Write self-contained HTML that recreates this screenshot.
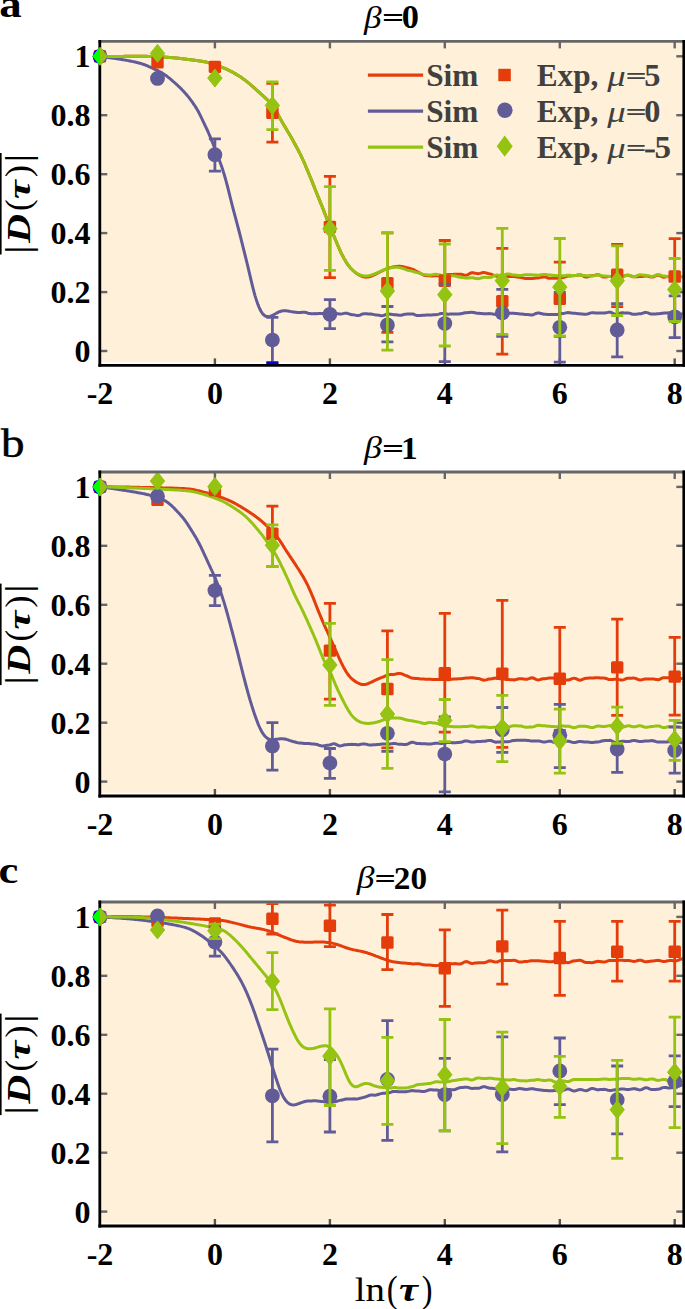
<!DOCTYPE html>
<html><head><meta charset="utf-8"><style>
html,body{margin:0;padding:0;background:#fff;}
svg{display:block;}
text{font-family:"Liberation Serif",serif;}
.tk{font-size:32px;font-weight:bold;fill:#000;}
.tt{font-size:32px;font-weight:bold;fill:#000;}
.it{font-style:italic;font-weight:normal;}
.bi{font-style:italic;font-weight:bold;}
.r{font-weight:normal;}
.yl{font-size:32px;fill:#000;}
.xl{font-size:33px;fill:#000;}
.pl{font-size:40px;font-weight:bold;fill:#000;}
.lg{font-size:31px;font-weight:bold;fill:#404040;}
</style></head><body>
<svg width="685" height="1309" viewBox="0 0 685 1309">
<rect width="685" height="1309" fill="#fff"/>
<rect x="101" y="42.6" width="581.5" height="319.6" fill="#FEF0D9"/>
<clipPath id="cp0"><rect x="101" y="42.6" width="581.5" height="321.4"/></clipPath>
<line x1="214.9" y1="41.4" x2="214.9" y2="48.4" stroke="#666666" stroke-width="2.4"/>
<line x1="214.9" y1="365.4" x2="214.9" y2="358.4" stroke="#555" stroke-width="2.4"/>
<line x1="329.9" y1="41.4" x2="329.9" y2="48.4" stroke="#666666" stroke-width="2.4"/>
<line x1="329.9" y1="365.4" x2="329.9" y2="358.4" stroke="#555" stroke-width="2.4"/>
<line x1="444.8" y1="41.4" x2="444.8" y2="48.4" stroke="#666666" stroke-width="2.4"/>
<line x1="444.8" y1="365.4" x2="444.8" y2="358.4" stroke="#555" stroke-width="2.4"/>
<line x1="559.8" y1="41.4" x2="559.8" y2="48.4" stroke="#666666" stroke-width="2.4"/>
<line x1="559.8" y1="365.4" x2="559.8" y2="358.4" stroke="#555" stroke-width="2.4"/>
<line x1="674.7" y1="41.4" x2="674.7" y2="48.4" stroke="#666666" stroke-width="2.4"/>
<line x1="674.7" y1="365.4" x2="674.7" y2="358.4" stroke="#555" stroke-width="2.4"/>
<line x1="99.8" y1="351.0" x2="107.3" y2="351.0" stroke="#666666" stroke-width="2.4"/>
<line x1="683.8" y1="351.0" x2="676.3" y2="351.0" stroke="#666666" stroke-width="2.4"/>
<line x1="99.8" y1="292.1" x2="107.3" y2="292.1" stroke="#666666" stroke-width="2.4"/>
<line x1="683.8" y1="292.1" x2="676.3" y2="292.1" stroke="#666666" stroke-width="2.4"/>
<line x1="99.8" y1="233.1" x2="107.3" y2="233.1" stroke="#666666" stroke-width="2.4"/>
<line x1="683.8" y1="233.1" x2="676.3" y2="233.1" stroke="#666666" stroke-width="2.4"/>
<line x1="99.8" y1="174.2" x2="107.3" y2="174.2" stroke="#666666" stroke-width="2.4"/>
<line x1="683.8" y1="174.2" x2="676.3" y2="174.2" stroke="#666666" stroke-width="2.4"/>
<line x1="99.8" y1="115.2" x2="107.3" y2="115.2" stroke="#666666" stroke-width="2.4"/>
<line x1="683.8" y1="115.2" x2="676.3" y2="115.2" stroke="#666666" stroke-width="2.4"/>
<line x1="99.8" y1="56.3" x2="107.3" y2="56.3" stroke="#666666" stroke-width="2.4"/>
<line x1="683.8" y1="56.3" x2="676.3" y2="56.3" stroke="#666666" stroke-width="2.4"/>
<g clip-path="url(#cp0)">
<path d="M100.0,56.6 L101.0,56.6 L102.0,56.6 L103.0,56.6 L104.0,56.6 L105.0,56.6 L106.0,56.6 L107.0,56.5 L108.0,56.5 L109.0,56.5 L110.0,56.5 L111.0,56.5 L112.0,56.5 L113.0,56.5 L114.0,56.5 L115.0,56.4 L116.0,56.4 L117.0,56.4 L118.0,56.4 L119.0,56.4 L120.0,56.4 L121.0,56.4 L122.0,56.4 L123.0,56.4 L124.0,56.3 L125.0,56.3 L126.0,56.3 L127.0,56.3 L128.0,56.3 L129.0,56.3 L130.0,56.3 L131.0,56.3 L132.0,56.3 L133.0,56.3 L134.0,56.3 L135.0,56.3 L136.0,56.3 L137.0,56.3 L138.0,56.3 L139.0,56.3 L140.0,56.3 L141.0,56.3 L142.0,56.3 L143.0,56.3 L144.0,56.3 L145.0,56.3 L146.0,56.3 L147.0,56.3 L148.0,56.4 L149.0,56.4 L150.0,56.4 L151.0,56.4 L152.0,56.4 L153.0,56.5 L154.0,56.5 L155.0,56.5 L156.0,56.6 L157.0,56.6 L158.0,56.7 L159.0,56.7 L160.0,56.8 L161.0,56.8 L162.0,56.9 L163.0,56.9 L164.0,57.0 L165.0,57.1 L166.0,57.2 L167.0,57.2 L168.0,57.3 L169.0,57.4 L170.0,57.5 L171.0,57.6 L172.0,57.7 L173.0,57.7 L174.0,57.8 L175.0,57.9 L176.0,58.0 L177.0,58.1 L178.0,58.2 L179.0,58.3 L180.0,58.5 L181.0,58.6 L182.0,58.7 L183.0,58.8 L184.0,58.9 L185.0,59.0 L186.0,59.2 L187.0,59.3 L188.0,59.4 L189.0,59.5 L190.0,59.7 L191.0,59.8 L192.0,59.9 L193.0,60.0 L194.0,60.2 L195.0,60.3 L196.0,60.5 L197.0,60.6 L198.0,60.7 L199.0,60.9 L200.0,61.0 L201.0,61.2 L202.0,61.3 L203.0,61.5 L204.0,61.7 L205.0,61.8 L206.0,62.0 L207.0,62.3 L208.0,62.5 L209.0,62.8 L210.0,63.1 L211.0,63.4 L212.0,63.7 L213.0,64.1 L214.0,64.4 L215.0,64.7 L216.0,65.1 L217.0,65.4 L218.0,65.8 L219.0,66.1 L220.0,66.5 L221.0,66.9 L222.0,67.3 L223.0,67.7 L224.0,68.1 L225.0,68.5 L226.0,68.9 L227.0,69.4 L228.0,69.9 L229.0,70.4 L230.0,70.9 L231.0,71.4 L232.0,71.9 L233.0,72.4 L234.0,73.0 L235.0,73.6 L236.0,74.1 L237.0,74.7 L238.0,75.4 L239.0,76.0 L240.0,76.6 L241.0,77.3 L242.0,78.0 L243.0,78.7 L244.0,79.4 L245.0,80.2 L246.0,80.9 L247.0,81.7 L248.0,82.5 L249.0,83.4 L250.0,84.2 L251.0,85.1 L252.0,85.9 L253.0,86.8 L254.0,87.7 L255.0,88.6 L256.0,89.5 L257.0,90.4 L258.0,91.3 L259.0,92.2 L260.0,93.1 L261.0,94.0 L262.0,94.9 L263.0,95.8 L264.0,96.7 L265.0,97.7 L266.0,98.6 L267.0,99.5 L268.0,100.5 L269.0,101.5 L270.0,102.5 L271.0,103.6 L272.0,104.8 L273.0,106.1 L274.0,107.6 L275.0,109.3 L276.0,111.0 L277.0,112.8 L278.0,114.6 L279.0,116.4 L280.0,118.2 L281.0,120.0 L282.0,121.8 L283.0,123.5 L284.0,125.2 L285.0,126.8 L286.0,128.5 L287.0,130.2 L288.0,131.9 L289.0,133.6 L290.0,135.3 L291.0,137.0 L292.0,138.8 L293.0,140.6 L294.0,142.4 L295.0,144.2 L296.0,146.1 L297.0,147.9 L298.0,149.8 L299.0,151.7 L300.0,153.7 L301.0,155.7 L302.0,157.8 L303.0,160.0 L304.0,162.2 L305.0,164.5 L306.0,166.9 L307.0,169.3 L308.0,171.7 L309.0,174.1 L310.0,176.5 L311.0,178.9 L312.0,181.4 L313.0,183.9 L314.0,186.4 L315.0,189.0 L316.0,191.5 L317.0,194.0 L318.0,196.4 L319.0,198.9 L320.0,201.4 L321.0,203.8 L322.0,206.3 L323.0,208.8 L324.0,211.4 L325.0,214.0 L326.0,216.5 L327.0,219.1 L328.0,221.6 L329.0,224.1 L330.0,226.5 L331.0,228.9 L332.0,231.3 L333.0,233.7 L334.0,236.2 L335.0,238.6 L336.0,241.0 L337.0,243.5 L338.0,245.9 L339.0,248.2 L340.0,250.4 L341.0,252.6 L342.0,254.6 L343.0,256.5 L344.0,258.4 L345.0,260.1 L346.0,261.8 L347.0,263.3 L348.0,264.8 L349.0,266.1 L350.0,267.4 L351.0,268.5 L352.0,269.5 L353.0,270.5 L354.0,271.4 L355.0,272.2 L356.0,273.0 L357.0,273.7 L358.0,274.3 L359.0,274.9 L360.0,275.4 L361.0,275.9 L362.0,276.3 L363.0,276.7 L364.0,276.9 L365.0,277.1 L366.0,277.2 L367.0,277.1 L368.0,277.0 L369.0,276.8 L370.0,276.5 L371.0,276.2 L372.0,275.8 L373.0,275.4 L374.0,274.9 L375.0,274.4 L376.0,274.0 L377.0,273.5 L378.0,273.0 L379.0,272.5 L380.0,272.0 L381.0,271.5 L382.0,270.9 L383.0,270.5 L384.0,270.0 L385.0,269.5 L386.0,269.1 L387.0,268.7 L388.0,268.4 L389.0,268.0 L390.0,267.7 L391.0,267.5 L392.0,267.2 L393.0,267.0 L394.0,266.8 L395.0,266.6 L396.0,266.5 L397.0,266.4 L398.0,266.3 L399.0,266.3 L400.0,266.3 L401.0,266.4 L402.0,266.5 L403.0,266.7 L404.0,266.9 L405.0,267.1 L406.0,267.4 L407.0,267.6 L408.0,267.9 L409.0,268.2 L410.0,268.5 L411.0,268.8 L412.0,269.1 L413.0,269.4 L414.0,269.9 L415.0,270.5 L416.0,271.1 L417.0,271.6 L418.0,272.1 L419.0,272.6 L420.0,273.1 L421.0,273.6 L422.0,274.2 L423.0,274.7 L424.0,275.2 L425.0,275.5 L426.0,275.6 L427.0,275.7 L428.0,275.7 L429.0,275.7 L430.0,275.8 L431.0,276.0 L432.0,276.0 L433.0,275.9 L434.0,275.8 L435.0,275.7 L436.0,275.6 L437.0,275.7 L438.0,275.8 L439.0,275.9 L440.0,276.0 L441.0,276.1 L442.0,276.1 L443.0,275.9 L444.0,275.6 L445.0,275.3 L446.0,275.0 L447.0,274.7 L448.0,274.6 L449.0,274.5 L450.0,274.5 L451.0,274.4 L452.0,274.4 L453.0,274.4 L454.0,274.3 L455.0,274.3 L456.0,274.3 L457.0,274.3 L458.0,274.3 L459.0,274.2 L460.0,274.2 L461.0,274.2 L462.0,274.4 L463.0,274.7 L464.0,275.1 L465.0,275.3 L466.0,275.3 L467.0,275.1 L468.0,274.6 L469.0,274.0 L470.0,273.4 L471.0,273.0 L472.0,272.7 L473.0,272.8 L474.0,273.0 L475.0,273.2 L476.0,273.4 L477.0,273.6 L478.0,273.7 L479.0,273.6 L480.0,273.4 L481.0,273.1 L482.0,272.8 L483.0,272.6 L484.0,272.6 L485.0,272.7 L486.0,272.9 L487.0,273.2 L488.0,273.5 L489.0,273.7 L490.0,273.9 L491.0,274.1 L492.0,274.5 L493.0,275.0 L494.0,275.5 L495.0,275.9 L496.0,276.1 L497.0,276.2 L498.0,276.3 L499.0,276.3 L500.0,276.4 L501.0,276.4 L502.0,276.5 L503.0,276.6 L504.0,276.6 L505.0,276.5 L506.0,276.4 L507.0,276.3 L508.0,276.4 L509.0,276.5 L510.0,276.5 L511.0,276.5 L512.0,276.5 L513.0,276.5 L514.0,276.6 L515.0,276.7 L516.0,276.8 L517.0,277.0 L518.0,277.1 L519.0,277.2 L520.0,277.3 L521.0,277.4 L522.0,277.7 L523.0,277.9 L524.0,278.2 L525.0,278.4 L526.0,278.5 L527.0,278.5 L528.0,278.5 L529.0,278.5 L530.0,278.5 L531.0,278.4 L532.0,278.4 L533.0,278.4 L534.0,278.3 L535.0,278.2 L536.0,278.1 L537.0,277.9 L538.0,277.9 L539.0,277.8 L540.0,277.6 L541.0,277.4 L542.0,277.2 L543.0,277.0 L544.0,276.9 L545.0,277.0 L546.0,277.2 L547.0,277.6 L548.0,278.0 L549.0,278.3 L550.0,278.3 L551.0,278.2 L552.0,278.2 L553.0,278.3 L554.0,278.3 L555.0,278.3 L556.0,278.3 L557.0,278.2 L558.0,278.1 L559.0,277.9 L560.0,277.8 L561.0,277.7 L562.0,277.7 L563.0,277.5 L564.0,277.2 L565.0,276.9 L566.0,276.5 L567.0,276.2 L568.0,276.1 L569.0,276.1 L570.0,276.0 L571.0,275.9 L572.0,275.8 L573.0,275.7 L574.0,275.7 L575.0,275.6 L576.0,275.4 L577.0,275.2 L578.0,275.0 L579.0,274.9 L580.0,274.8 L581.0,275.0 L582.0,275.4 L583.0,276.0 L584.0,276.5 L585.0,276.9 L586.0,277.1 L587.0,277.0 L588.0,276.7 L589.0,276.4 L590.0,276.0 L591.0,275.8 L592.0,275.7 L593.0,275.6 L594.0,275.4 L595.0,275.2 L596.0,275.0 L597.0,274.8 L598.0,274.8 L599.0,274.9 L600.0,275.4 L601.0,275.9 L602.0,276.5 L603.0,277.0 L604.0,277.1 L605.0,277.1 L606.0,276.9 L607.0,276.8 L608.0,276.6 L609.0,276.4 L610.0,276.4 L611.0,276.4 L612.0,276.4 L613.0,276.5 L614.0,276.6 L615.0,276.6 L616.0,276.6 L617.0,276.6 L618.0,276.5 L619.0,276.4 L620.0,276.2 L621.0,276.1 L622.0,276.1 L623.0,276.0 L624.0,275.9 L625.0,275.7 L626.0,275.5 L627.0,275.3 L628.0,275.3 L629.0,275.4 L630.0,275.7 L631.0,276.0 L632.0,276.4 L633.0,276.7 L634.0,276.8 L635.0,276.8 L636.0,276.7 L637.0,276.7 L638.0,276.7 L639.0,276.6 L640.0,276.6 L641.0,276.6 L642.0,276.5 L643.0,276.3 L644.0,276.2 L645.0,276.1 L646.0,276.0 L647.0,276.1 L648.0,276.3 L649.0,276.6 L650.0,276.9 L651.0,277.1 L652.0,277.1 L653.0,277.0 L654.0,276.6 L655.0,276.2 L656.0,275.7 L657.0,275.3 L658.0,275.2 L659.0,275.3 L660.0,275.7 L661.0,276.2 L662.0,276.7 L663.0,277.0 L664.0,277.2 L665.0,277.1 L666.0,276.9 L667.0,276.7 L668.0,276.5 L669.0,276.3 L670.0,276.2 L671.0,276.1 L672.0,275.9 L673.0,275.6 L674.0,275.3 L675.0,275.1 L676.0,275.0 L677.0,275.1 L678.0,275.5 L679.0,275.9 L680.0,276.4 L681.0,276.7 L682.0,276.9 L683.0,276.9" fill="none" stroke="#E43C0A" stroke-width="3.0" stroke-linejoin="round" stroke-linecap="round"/>
<path d="M100.0,56.7 L101.0,56.8 L102.0,56.9 L103.0,57.0 L104.0,57.1 L105.0,57.2 L106.0,57.3 L107.0,57.4 L108.0,57.6 L109.0,57.7 L110.0,57.8 L111.0,57.9 L112.0,58.1 L113.0,58.2 L114.0,58.3 L115.0,58.5 L116.0,58.6 L117.0,58.8 L118.0,58.9 L119.0,59.1 L120.0,59.2 L121.0,59.4 L122.0,59.5 L123.0,59.7 L124.0,59.9 L125.0,60.1 L126.0,60.2 L127.0,60.4 L128.0,60.6 L129.0,60.8 L130.0,61.0 L131.0,61.2 L132.0,61.4 L133.0,61.6 L134.0,61.8 L135.0,62.0 L136.0,62.2 L137.0,62.5 L138.0,62.7 L139.0,63.0 L140.0,63.3 L141.0,63.5 L142.0,63.9 L143.0,64.2 L144.0,64.5 L145.0,64.9 L146.0,65.3 L147.0,65.7 L148.0,66.1 L149.0,66.6 L150.0,67.0 L151.0,67.5 L152.0,67.9 L153.0,68.4 L154.0,68.8 L155.0,69.3 L156.0,69.8 L157.0,70.2 L158.0,70.7 L159.0,71.3 L160.0,71.8 L161.0,72.3 L162.0,72.9 L163.0,73.6 L164.0,74.2 L165.0,74.9 L166.0,75.6 L167.0,76.3 L168.0,77.1 L169.0,77.9 L170.0,78.7 L171.0,79.5 L172.0,80.4 L173.0,81.3 L174.0,82.1 L175.0,83.0 L176.0,83.9 L177.0,84.8 L178.0,85.8 L179.0,86.7 L180.0,87.7 L181.0,88.6 L182.0,89.7 L183.0,90.7 L184.0,91.8 L185.0,92.9 L186.0,94.0 L187.0,95.2 L188.0,96.4 L189.0,97.7 L190.0,99.0 L191.0,100.4 L192.0,101.7 L193.0,103.1 L194.0,104.6 L195.0,106.0 L196.0,107.6 L197.0,109.2 L198.0,111.0 L199.0,112.8 L200.0,114.8 L201.0,116.8 L202.0,119.0 L203.0,121.1 L204.0,123.2 L205.0,125.3 L206.0,127.4 L207.0,129.5 L208.0,131.7 L209.0,134.0 L210.0,136.4 L211.0,138.8 L212.0,141.3 L213.0,143.8 L214.0,146.3 L215.0,148.8 L216.0,151.4 L217.0,153.9 L218.0,156.5 L219.0,159.2 L220.0,161.9 L221.0,164.7 L222.0,167.6 L223.0,170.7 L224.0,173.9 L225.0,177.2 L226.0,180.8 L227.0,184.5 L228.0,188.4 L229.0,192.4 L230.0,196.5 L231.0,200.5 L232.0,204.5 L233.0,208.4 L234.0,212.2 L235.0,215.9 L236.0,219.7 L237.0,223.4 L238.0,227.2 L239.0,231.0 L240.0,234.9 L241.0,238.8 L242.0,242.8 L243.0,246.8 L244.0,250.8 L245.0,254.8 L246.0,258.9 L247.0,263.0 L248.0,267.1 L249.0,271.4 L250.0,275.6 L251.0,279.9 L252.0,284.1 L253.0,288.1 L254.0,292.0 L255.0,295.6 L256.0,298.9 L257.0,301.9 L258.0,304.7 L259.0,307.1 L260.0,309.3 L261.0,311.2 L262.0,312.8 L263.0,314.1 L264.0,315.1 L265.0,315.8 L266.0,316.3 L267.0,316.6 L268.0,316.7 L269.0,316.6 L270.0,316.4 L271.0,316.0 L272.0,315.6 L273.0,315.1 L274.0,314.6 L275.0,314.0 L276.0,313.5 L277.0,312.9 L278.0,312.4 L279.0,311.9 L280.0,311.5 L281.0,311.2 L282.0,310.9 L283.0,310.8 L284.0,310.7 L285.0,310.7 L286.0,310.7 L287.0,310.9 L288.0,311.0 L289.0,311.2 L290.0,311.4 L291.0,311.6 L292.0,311.8 L293.0,312.0 L294.0,312.1 L295.0,312.2 L296.0,312.3 L297.0,312.4 L298.0,312.4 L299.0,312.5 L300.0,312.5 L301.0,312.4 L302.0,312.3 L303.0,312.2 L304.0,312.2 L305.0,312.3 L306.0,312.5 L307.0,312.8 L308.0,313.2 L309.0,313.5 L310.0,313.6 L311.0,313.7 L312.0,313.7 L313.0,313.7 L314.0,313.7 L315.0,313.6 L316.0,313.7 L317.0,313.7 L318.0,313.6 L319.0,313.5 L320.0,313.4 L321.0,313.4 L322.0,313.4 L323.0,313.4 L324.0,313.5 L325.0,313.6 L326.0,313.6 L327.0,313.7 L328.0,313.8 L329.0,313.7 L330.0,313.6 L331.0,313.4 L332.0,313.2 L333.0,313.0 L334.0,313.0 L335.0,313.1 L336.0,313.3 L337.0,313.6 L338.0,313.8 L339.0,314.0 L340.0,314.1 L341.0,314.1 L342.0,313.9 L343.0,313.6 L344.0,313.4 L345.0,313.2 L346.0,313.2 L347.0,313.3 L348.0,313.6 L349.0,313.9 L350.0,314.3 L351.0,314.5 L352.0,314.7 L353.0,314.7 L354.0,314.9 L355.0,315.1 L356.0,315.3 L357.0,315.4 L358.0,315.5 L359.0,315.4 L360.0,315.1 L361.0,314.6 L362.0,314.2 L363.0,313.9 L364.0,313.7 L365.0,313.8 L366.0,313.8 L367.0,313.8 L368.0,313.9 L369.0,313.9 L370.0,314.0 L371.0,314.0 L372.0,314.2 L373.0,314.4 L374.0,314.6 L375.0,314.8 L376.0,314.9 L377.0,314.9 L378.0,315.1 L379.0,315.3 L380.0,315.5 L381.0,315.7 L382.0,315.8 L383.0,315.6 L384.0,315.3 L385.0,314.9 L386.0,314.5 L387.0,314.1 L388.0,314.0 L389.0,314.1 L390.0,314.2 L391.0,314.3 L392.0,314.5 L393.0,314.6 L394.0,314.7 L395.0,314.7 L396.0,314.8 L397.0,315.0 L398.0,315.1 L399.0,315.2 L400.0,315.3 L401.0,315.2 L402.0,315.0 L403.0,314.7 L404.0,314.4 L405.0,314.2 L406.0,314.2 L407.0,314.1 L408.0,314.1 L409.0,314.0 L410.0,314.0 L411.0,313.9 L412.0,313.9 L413.0,314.0 L414.0,314.4 L415.0,314.8 L416.0,315.2 L417.0,315.5 L418.0,315.6 L419.0,315.6 L420.0,315.5 L421.0,315.4 L422.0,315.3 L423.0,315.2 L424.0,315.2 L425.0,315.2 L426.0,315.1 L427.0,315.1 L428.0,315.0 L429.0,315.0 L430.0,314.9 L431.0,314.9 L432.0,314.9 L433.0,314.8 L434.0,314.8 L435.0,314.7 L436.0,314.7 L437.0,314.6 L438.0,314.4 L439.0,314.1 L440.0,313.8 L441.0,313.5 L442.0,313.4 L443.0,313.4 L444.0,313.6 L445.0,313.8 L446.0,314.0 L447.0,314.1 L448.0,314.2 L449.0,314.2 L450.0,314.1 L451.0,314.1 L452.0,314.1 L453.0,314.0 L454.0,314.0 L455.0,314.0 L456.0,313.9 L457.0,313.9 L458.0,313.9 L459.0,313.9 L460.0,313.8 L461.0,313.7 L462.0,313.5 L463.0,313.3 L464.0,313.0 L465.0,312.8 L466.0,312.7 L467.0,312.7 L468.0,312.6 L469.0,312.5 L470.0,312.4 L471.0,312.3 L472.0,312.3 L473.0,312.4 L474.0,312.5 L475.0,312.8 L476.0,313.1 L477.0,313.3 L478.0,313.3 L479.0,313.3 L480.0,313.4 L481.0,313.5 L482.0,313.6 L483.0,313.7 L484.0,313.7 L485.0,313.7 L486.0,313.7 L487.0,313.7 L488.0,313.7 L489.0,313.6 L490.0,313.7 L491.0,313.7 L492.0,313.9 L493.0,314.0 L494.0,314.2 L495.0,314.4 L496.0,314.4 L497.0,314.3 L498.0,314.1 L499.0,313.8 L500.0,313.4 L501.0,313.2 L502.0,313.1 L503.0,313.1 L504.0,313.2 L505.0,313.2 L506.0,313.2 L507.0,313.3 L508.0,313.3 L509.0,313.3 L510.0,313.3 L511.0,313.3 L512.0,313.3 L513.0,313.3 L514.0,313.3 L515.0,313.4 L516.0,313.5 L517.0,313.6 L518.0,313.7 L519.0,313.8 L520.0,313.9 L521.0,313.9 L522.0,314.0 L523.0,314.2 L524.0,314.3 L525.0,314.4 L526.0,314.4 L527.0,314.5 L528.0,314.6 L529.0,314.7 L530.0,314.8 L531.0,314.9 L532.0,314.9 L533.0,314.8 L534.0,314.4 L535.0,313.9 L536.0,313.5 L537.0,313.1 L538.0,312.9 L539.0,313.0 L540.0,313.3 L541.0,313.5 L542.0,313.8 L543.0,314.1 L544.0,314.2 L545.0,314.2 L546.0,314.3 L547.0,314.4 L548.0,314.5 L549.0,314.6 L550.0,314.6 L551.0,314.6 L552.0,314.6 L553.0,314.6 L554.0,314.5 L555.0,314.5 L556.0,314.5 L557.0,314.4 L558.0,314.3 L559.0,314.1 L560.0,313.9 L561.0,313.7 L562.0,313.6 L563.0,313.5 L564.0,313.4 L565.0,313.1 L566.0,312.9 L567.0,312.7 L568.0,312.6 L569.0,312.7 L570.0,312.8 L571.0,312.9 L572.0,313.1 L573.0,313.2 L574.0,313.2 L575.0,313.2 L576.0,313.4 L577.0,313.5 L578.0,313.7 L579.0,313.8 L580.0,313.8 L581.0,313.9 L582.0,313.9 L583.0,314.1 L584.0,314.2 L585.0,314.2 L586.0,314.3 L587.0,314.1 L588.0,313.9 L589.0,313.5 L590.0,313.1 L591.0,312.9 L592.0,312.7 L593.0,312.8 L594.0,312.8 L595.0,312.9 L596.0,312.9 L597.0,313.0 L598.0,313.0 L599.0,313.0 L600.0,313.0 L601.0,313.0 L602.0,313.0 L603.0,313.0 L604.0,313.0 L605.0,313.0 L606.0,312.8 L607.0,312.6 L608.0,312.4 L609.0,312.2 L610.0,312.2 L611.0,312.3 L612.0,312.8 L613.0,313.3 L614.0,313.9 L615.0,314.3 L616.0,314.5 L617.0,314.4 L618.0,314.1 L619.0,313.7 L620.0,313.3 L621.0,313.0 L622.0,312.8 L623.0,312.8 L624.0,312.9 L625.0,312.9 L626.0,313.0 L627.0,313.0 L628.0,313.0 L629.0,313.1 L630.0,313.4 L631.0,313.7 L632.0,314.0 L633.0,314.2 L634.0,314.3 L635.0,314.3 L636.0,314.2 L637.0,314.1 L638.0,313.9 L639.0,313.8 L640.0,313.8 L641.0,313.7 L642.0,313.4 L643.0,313.1 L644.0,312.8 L645.0,312.5 L646.0,312.4 L647.0,312.6 L648.0,312.9 L649.0,313.3 L650.0,313.7 L651.0,314.0 L652.0,314.1 L653.0,314.1 L654.0,314.1 L655.0,314.0 L656.0,313.9 L657.0,313.8 L658.0,313.8 L659.0,313.8 L660.0,313.6 L661.0,313.5 L662.0,313.3 L663.0,313.2 L664.0,313.1 L665.0,313.1 L666.0,313.1 L667.0,313.0 L668.0,312.9 L669.0,312.8 L670.0,312.8 L671.0,312.9 L672.0,313.1 L673.0,313.4 L674.0,313.6 L675.0,313.8 L676.0,313.9 L677.0,313.9 L678.0,313.9 L679.0,314.0 L680.0,314.0 L681.0,314.1 L682.0,314.1 L683.0,314.0" fill="none" stroke="#615B98" stroke-width="3.0" stroke-linejoin="round" stroke-linecap="round"/>
<path d="M100.0,56.6 L101.0,56.6 L102.0,56.6 L103.0,56.6 L104.0,56.6 L105.0,56.6 L106.0,56.6 L107.0,56.5 L108.0,56.5 L109.0,56.5 L110.0,56.5 L111.0,56.5 L112.0,56.5 L113.0,56.5 L114.0,56.5 L115.0,56.4 L116.0,56.4 L117.0,56.4 L118.0,56.4 L119.0,56.4 L120.0,56.4 L121.0,56.4 L122.0,56.4 L123.0,56.4 L124.0,56.3 L125.0,56.3 L126.0,56.3 L127.0,56.3 L128.0,56.3 L129.0,56.3 L130.0,56.3 L131.0,56.3 L132.0,56.3 L133.0,56.3 L134.0,56.3 L135.0,56.3 L136.0,56.3 L137.0,56.3 L138.0,56.3 L139.0,56.3 L140.0,56.3 L141.0,56.3 L142.0,56.3 L143.0,56.3 L144.0,56.3 L145.0,56.3 L146.0,56.3 L147.0,56.3 L148.0,56.4 L149.0,56.4 L150.0,56.4 L151.0,56.4 L152.0,56.4 L153.0,56.5 L154.0,56.5 L155.0,56.5 L156.0,56.6 L157.0,56.6 L158.0,56.7 L159.0,56.7 L160.0,56.8 L161.0,56.8 L162.0,56.9 L163.0,56.9 L164.0,57.0 L165.0,57.1 L166.0,57.2 L167.0,57.2 L168.0,57.3 L169.0,57.4 L170.0,57.5 L171.0,57.6 L172.0,57.7 L173.0,57.7 L174.0,57.8 L175.0,57.9 L176.0,58.0 L177.0,58.1 L178.0,58.2 L179.0,58.3 L180.0,58.5 L181.0,58.6 L182.0,58.7 L183.0,58.8 L184.0,58.9 L185.0,59.0 L186.0,59.2 L187.0,59.3 L188.0,59.4 L189.0,59.5 L190.0,59.7 L191.0,59.8 L192.0,59.9 L193.0,60.0 L194.0,60.2 L195.0,60.3 L196.0,60.5 L197.0,60.6 L198.0,60.7 L199.0,60.9 L200.0,61.0 L201.0,61.2 L202.0,61.3 L203.0,61.5 L204.0,61.7 L205.0,61.8 L206.0,62.0 L207.0,62.3 L208.0,62.5 L209.0,62.8 L210.0,63.1 L211.0,63.4 L212.0,63.7 L213.0,64.1 L214.0,64.4 L215.0,64.7 L216.0,65.1 L217.0,65.4 L218.0,65.8 L219.0,66.1 L220.0,66.5 L221.0,66.9 L222.0,67.3 L223.0,67.7 L224.0,68.1 L225.0,68.5 L226.0,68.9 L227.0,69.4 L228.0,69.9 L229.0,70.4 L230.0,70.9 L231.0,71.4 L232.0,71.9 L233.0,72.4 L234.0,73.0 L235.0,73.6 L236.0,74.1 L237.0,74.7 L238.0,75.4 L239.0,76.0 L240.0,76.6 L241.0,77.3 L242.0,78.0 L243.0,78.7 L244.0,79.4 L245.0,80.2 L246.0,80.9 L247.0,81.7 L248.0,82.5 L249.0,83.4 L250.0,84.2 L251.0,85.1 L252.0,85.9 L253.0,86.8 L254.0,87.7 L255.0,88.6 L256.0,89.5 L257.0,90.4 L258.0,91.3 L259.0,92.2 L260.0,93.1 L261.0,94.0 L262.0,94.9 L263.0,95.8 L264.0,96.7 L265.0,97.7 L266.0,98.6 L267.0,99.5 L268.0,100.5 L269.0,101.5 L270.0,102.5 L271.0,103.6 L272.0,104.8 L273.0,106.1 L274.0,107.6 L275.0,109.3 L276.0,111.0 L277.0,112.8 L278.0,114.6 L279.0,116.4 L280.0,118.2 L281.0,120.0 L282.0,121.8 L283.0,123.5 L284.0,125.2 L285.0,126.8 L286.0,128.5 L287.0,130.2 L288.0,131.9 L289.0,133.6 L290.0,135.3 L291.0,137.0 L292.0,138.8 L293.0,140.6 L294.0,142.4 L295.0,144.2 L296.0,146.1 L297.0,147.9 L298.0,149.8 L299.0,151.7 L300.0,153.7 L301.0,155.7 L302.0,157.8 L303.0,160.0 L304.0,162.2 L305.0,164.5 L306.0,166.9 L307.0,169.3 L308.0,171.7 L309.0,174.1 L310.0,176.5 L311.0,178.9 L312.0,181.4 L313.0,183.9 L314.0,186.4 L315.0,189.0 L316.0,191.5 L317.0,194.0 L318.0,196.4 L319.0,198.9 L320.0,201.4 L321.0,203.8 L322.0,206.3 L323.0,208.8 L324.0,211.4 L325.0,214.0 L326.0,216.5 L327.0,219.1 L328.0,221.6 L329.0,224.1 L330.0,226.5 L331.0,228.9 L332.0,231.3 L333.0,233.7 L334.0,236.2 L335.0,238.6 L336.0,241.0 L337.0,243.5 L338.0,245.9 L339.0,248.2 L340.0,250.4 L341.0,252.6 L342.0,254.6 L343.0,256.5 L344.0,258.4 L345.0,260.1 L346.0,261.8 L347.0,263.3 L348.0,264.8 L349.0,266.1 L350.0,267.4 L351.0,268.5 L352.0,269.6 L353.0,270.5 L354.0,271.4 L355.0,272.2 L356.0,273.0 L357.0,273.6 L358.0,274.1 L359.0,274.6 L360.0,275.0 L361.0,275.3 L362.0,275.6 L363.0,275.7 L364.0,275.9 L365.0,275.9 L366.0,275.9 L367.0,275.9 L368.0,275.8 L369.0,275.6 L370.0,275.4 L371.0,275.1 L372.0,274.8 L373.0,274.4 L374.0,274.1 L375.0,273.7 L376.0,273.3 L377.0,272.9 L378.0,272.4 L379.0,272.0 L380.0,271.6 L381.0,271.1 L382.0,270.6 L383.0,270.2 L384.0,269.8 L385.0,269.4 L386.0,269.0 L387.0,268.7 L388.0,268.4 L389.0,268.1 L390.0,267.9 L391.0,267.7 L392.0,267.6 L393.0,267.4 L394.0,267.3 L395.0,267.2 L396.0,267.2 L397.0,267.2 L398.0,267.3 L399.0,267.4 L400.0,267.6 L401.0,267.9 L402.0,268.2 L403.0,268.5 L404.0,268.8 L405.0,269.2 L406.0,269.7 L407.0,270.1 L408.0,270.4 L409.0,270.6 L410.0,270.7 L411.0,270.9 L412.0,271.1 L413.0,271.4 L414.0,271.7 L415.0,272.0 L416.0,272.4 L417.0,272.6 L418.0,272.8 L419.0,273.0 L420.0,273.3 L421.0,273.7 L422.0,274.1 L423.0,274.4 L424.0,274.6 L425.0,274.7 L426.0,274.8 L427.0,274.8 L428.0,274.9 L429.0,274.9 L430.0,275.0 L431.0,274.9 L432.0,274.8 L433.0,274.6 L434.0,274.4 L435.0,274.3 L436.0,274.3 L437.0,274.4 L438.0,274.6 L439.0,274.8 L440.0,275.0 L441.0,275.2 L442.0,275.4 L443.0,275.5 L444.0,275.5 L445.0,275.6 L446.0,275.7 L447.0,275.8 L448.0,276.0 L449.0,276.0 L450.0,276.0 L451.0,275.9 L452.0,275.8 L453.0,275.7 L454.0,275.8 L455.0,276.0 L456.0,276.2 L457.0,276.5 L458.0,276.8 L459.0,277.1 L460.0,277.2 L461.0,277.4 L462.0,277.5 L463.0,277.6 L464.0,277.8 L465.0,277.9 L466.0,277.9 L467.0,278.0 L468.0,277.9 L469.0,277.9 L470.0,277.8 L471.0,277.7 L472.0,277.7 L473.0,277.8 L474.0,278.0 L475.0,278.2 L476.0,278.5 L477.0,278.6 L478.0,278.7 L479.0,278.5 L480.0,278.3 L481.0,278.0 L482.0,277.7 L483.0,277.4 L484.0,277.3 L485.0,277.3 L486.0,277.3 L487.0,277.4 L488.0,277.5 L489.0,277.6 L490.0,277.5 L491.0,277.3 L492.0,276.8 L493.0,276.3 L494.0,275.8 L495.0,275.3 L496.0,275.1 L497.0,275.1 L498.0,275.1 L499.0,275.3 L500.0,275.4 L501.0,275.5 L502.0,275.5 L503.0,275.3 L504.0,275.0 L505.0,274.7 L506.0,274.3 L507.0,274.0 L508.0,273.9 L509.0,273.9 L510.0,274.1 L511.0,274.5 L512.0,274.8 L513.0,275.0 L514.0,275.1 L515.0,275.1 L516.0,275.2 L517.0,275.3 L518.0,275.4 L519.0,275.5 L520.0,275.5 L521.0,275.4 L522.0,275.3 L523.0,275.1 L524.0,274.9 L525.0,274.7 L526.0,274.7 L527.0,274.7 L528.0,274.7 L529.0,274.7 L530.0,274.8 L531.0,274.8 L532.0,274.8 L533.0,274.9 L534.0,274.9 L535.0,275.0 L536.0,275.1 L537.0,275.2 L538.0,275.2 L539.0,275.2 L540.0,275.0 L541.0,274.8 L542.0,274.6 L543.0,274.4 L544.0,274.4 L545.0,274.5 L546.0,274.6 L547.0,274.7 L548.0,274.8 L549.0,274.9 L550.0,275.0 L551.0,275.1 L552.0,275.2 L553.0,275.3 L554.0,275.5 L555.0,275.6 L556.0,275.6 L557.0,275.7 L558.0,275.7 L559.0,275.8 L560.0,275.8 L561.0,275.9 L562.0,275.9 L563.0,275.8 L564.0,275.7 L565.0,275.6 L566.0,275.4 L567.0,275.3 L568.0,275.2 L569.0,275.3 L570.0,275.3 L571.0,275.4 L572.0,275.4 L573.0,275.5 L574.0,275.5 L575.0,275.5 L576.0,275.4 L577.0,275.3 L578.0,275.2 L579.0,275.1 L580.0,275.1 L581.0,275.1 L582.0,275.3 L583.0,275.4 L584.0,275.5 L585.0,275.6 L586.0,275.7 L587.0,275.7 L588.0,275.8 L589.0,275.8 L590.0,275.9 L591.0,276.0 L592.0,276.0 L593.0,275.9 L594.0,275.7 L595.0,275.5 L596.0,275.3 L597.0,275.1 L598.0,275.1 L599.0,275.1 L600.0,275.3 L601.0,275.5 L602.0,275.7 L603.0,275.9 L604.0,276.0 L605.0,276.0 L606.0,276.1 L607.0,276.2 L608.0,276.3 L609.0,276.4 L610.0,276.4 L611.0,276.3 L612.0,276.2 L613.0,276.0 L614.0,275.8 L615.0,275.6 L616.0,275.6 L617.0,275.7 L618.0,275.9 L619.0,276.2 L620.0,276.5 L621.0,276.7 L622.0,276.8 L623.0,276.6 L624.0,276.3 L625.0,275.9 L626.0,275.5 L627.0,275.2 L628.0,275.0 L629.0,275.2 L630.0,275.5 L631.0,275.9 L632.0,276.2 L633.0,276.5 L634.0,276.7 L635.0,276.5 L636.0,276.2 L637.0,275.7 L638.0,275.3 L639.0,274.9 L640.0,274.8 L641.0,274.8 L642.0,274.9 L643.0,275.1 L644.0,275.2 L645.0,275.3 L646.0,275.3 L647.0,275.4 L648.0,275.6 L649.0,275.9 L650.0,276.2 L651.0,276.5 L652.0,276.5 L653.0,276.4 L654.0,276.0 L655.0,275.6 L656.0,275.1 L657.0,274.7 L658.0,274.6 L659.0,274.7 L660.0,275.0 L661.0,275.3 L662.0,275.7 L663.0,276.0 L664.0,276.1 L665.0,276.2 L666.0,276.3 L667.0,276.5 L668.0,276.7 L669.0,276.8 L670.0,276.8 L671.0,276.9 L672.0,276.9 L673.0,277.0 L674.0,277.0 L675.0,277.1 L676.0,277.1 L677.0,277.1 L678.0,276.9 L679.0,276.8 L680.0,276.6 L681.0,276.5 L682.0,276.5 L683.0,276.4" fill="none" stroke="#95C312" stroke-width="3.0" stroke-linejoin="round" stroke-linecap="round"/>
<rect x="151.3" y="56.0" width="12.4" height="12.4" rx="1.5" fill="#E43C0A"/>
<rect x="208.7" y="60.7" width="12.4" height="12.4" rx="1.5" fill="#E43C0A"/>
<path d="M272.4,83.4 V142.1 M266.4,83.4 H278.4 M266.4,142.1 H278.4" fill="none" stroke="#E43C0A" stroke-width="2.8"/>
<rect x="266.2" y="106.7" width="12.4" height="12.4" rx="1.5" fill="#E43C0A"/>
<path d="M329.9,176.4 V277.6 M323.9,176.4 H335.9 M323.9,277.6 H335.9" fill="none" stroke="#E43C0A" stroke-width="2.8"/>
<rect x="323.7" y="220.7" width="12.4" height="12.4" rx="1.5" fill="#E43C0A"/>
<path d="M387.4,232.8 V332.4 M381.4,232.8 H393.4 M381.4,332.4 H393.4" fill="none" stroke="#E43C0A" stroke-width="2.8"/>
<rect x="381.2" y="277.1" width="12.4" height="12.4" rx="1.5" fill="#E43C0A"/>
<path d="M444.8,240.5 V320.9 M438.8,240.5 H450.8 M438.8,320.9 H450.8" fill="none" stroke="#E43C0A" stroke-width="2.8"/>
<rect x="438.6" y="274.5" width="12.4" height="12.4" rx="1.5" fill="#E43C0A"/>
<path d="M502.3,248.3 V354.1 M496.3,248.3 H508.3 M496.3,354.1 H508.3" fill="none" stroke="#E43C0A" stroke-width="2.8"/>
<rect x="496.1" y="295.0" width="12.4" height="12.4" rx="1.5" fill="#E43C0A"/>
<path d="M559.8,262.2 V336.3 M553.8,262.2 H565.8 M553.8,336.3 H565.8" fill="none" stroke="#E43C0A" stroke-width="2.8"/>
<rect x="553.6" y="292.5" width="12.4" height="12.4" rx="1.5" fill="#E43C0A"/>
<path d="M617.2,244.4 V306.7 M611.2,244.4 H623.2 M611.2,306.7 H623.2" fill="none" stroke="#E43C0A" stroke-width="2.8"/>
<rect x="611.0" y="268.5" width="12.4" height="12.4" rx="1.5" fill="#E43C0A"/>
<path d="M674.7,238.6 V314.5 M668.7,238.6 H680.7 M668.7,314.5 H680.7" fill="none" stroke="#E43C0A" stroke-width="2.8"/>
<rect x="668.5" y="270.3" width="12.4" height="12.4" rx="1.5" fill="#E43C0A"/>
<circle cx="157.5" cy="78.4" r="7.4" fill="#615B98"/>
<path d="M214.9,138.8 V171.2 M208.9,138.8 H220.9 M208.9,171.2 H220.9" fill="none" stroke="#615B98" stroke-width="2.8"/>
<circle cx="214.9" cy="154.7" r="7.4" fill="#615B98"/>
<path d="M272.4,317.4 V362.8 M266.4,317.4 H278.4 M266.4,362.8 H278.4" fill="none" stroke="#615B98" stroke-width="2.8"/>
<line x1="266.4" y1="362.8" x2="278.4" y2="362.8" stroke="#0000E0" stroke-width="2.8"/>
<circle cx="272.4" cy="340.1" r="7.4" fill="#615B98"/>
<path d="M329.9,299.7 V328.6 M323.9,299.7 H335.9 M323.9,328.6 H335.9" fill="none" stroke="#615B98" stroke-width="2.8"/>
<circle cx="329.9" cy="314.3" r="7.4" fill="#615B98"/>
<path d="M387.4,306.5 V341.9 M381.4,306.5 H393.4 M381.4,341.9 H393.4" fill="none" stroke="#615B98" stroke-width="2.8"/>
<circle cx="387.4" cy="324.9" r="7.4" fill="#615B98"/>
<path d="M444.8,284.2 V361.6 M438.8,284.2 H450.8 M438.8,361.6 H450.8" fill="none" stroke="#615B98" stroke-width="2.8"/>
<circle cx="444.8" cy="323.6" r="7.4" fill="#615B98"/>
<path d="M502.3,289.4 V336.4 M496.3,289.4 H508.3 M496.3,336.4 H508.3" fill="none" stroke="#615B98" stroke-width="2.8"/>
<circle cx="502.3" cy="313.1" r="7.4" fill="#615B98"/>
<path d="M559.8,292.4 V362.2 M553.8,292.4 H565.8 M553.8,362.2 H565.8" fill="none" stroke="#615B98" stroke-width="2.8"/>
<circle cx="559.8" cy="327.3" r="7.4" fill="#615B98"/>
<path d="M617.2,303.6 V356.8 M611.2,303.6 H623.2 M611.2,356.8 H623.2" fill="none" stroke="#615B98" stroke-width="2.8"/>
<circle cx="617.2" cy="330.0" r="7.4" fill="#615B98"/>
<path d="M674.7,295.9 V337.6 M668.7,295.9 H680.7 M668.7,337.6 H680.7" fill="none" stroke="#615B98" stroke-width="2.8"/>
<circle cx="674.7" cy="316.8" r="7.4" fill="#615B98"/>
<path d="M157.5,44.4 L164.7,53.4 L157.5,62.4 L150.3,53.4Z" fill="#95C312" stroke="#95C312" stroke-width="1" stroke-linejoin="round"/>
<path d="M214.9,69.1 L222.1,78.1 L214.9,87.1 L207.7,78.1Z" fill="#95C312" stroke="#95C312" stroke-width="1" stroke-linejoin="round"/>
<path d="M272.4,81.8 V129.7 M266.4,81.8 H278.4 M266.4,129.7 H278.4" fill="none" stroke="#95C312" stroke-width="2.8"/>
<path d="M272.4,96.5 L279.6,105.5 L272.4,114.5 L265.2,105.5Z" fill="#95C312" stroke="#95C312" stroke-width="1" stroke-linejoin="round"/>
<path d="M329.9,186.6 V270.3 M323.9,186.6 H335.9 M323.9,270.3 H335.9" fill="none" stroke="#95C312" stroke-width="2.8"/>
<path d="M329.9,219.8 L337.1,228.8 L329.9,237.8 L322.7,228.8Z" fill="#95C312" stroke="#95C312" stroke-width="1" stroke-linejoin="round"/>
<path d="M387.4,232.8 V350.1 M381.4,232.8 H393.4 M381.4,350.1 H393.4" fill="none" stroke="#95C312" stroke-width="2.8"/>
<path d="M387.4,281.9 L394.6,290.9 L387.4,299.9 L380.2,290.9Z" fill="#95C312" stroke="#95C312" stroke-width="1" stroke-linejoin="round"/>
<path d="M444.8,244.0 V346.0 M438.8,244.0 H450.8 M438.8,346.0 H450.8" fill="none" stroke="#95C312" stroke-width="2.8"/>
<path d="M444.8,285.7 L452.0,294.7 L444.8,303.7 L437.6,294.7Z" fill="#95C312" stroke="#95C312" stroke-width="1" stroke-linejoin="round"/>
<path d="M502.3,228.4 V334.3 M496.3,228.4 H508.3 M496.3,334.3 H508.3" fill="none" stroke="#95C312" stroke-width="2.8"/>
<path d="M502.3,271.7 L509.5,280.7 L502.3,289.7 L495.1,280.7Z" fill="#95C312" stroke="#95C312" stroke-width="1" stroke-linejoin="round"/>
<path d="M559.8,238.5 V335.9 M553.8,238.5 H565.8 M553.8,335.9 H565.8" fill="none" stroke="#95C312" stroke-width="2.8"/>
<path d="M559.8,278.1 L567.0,287.1 L559.8,296.1 L552.6,287.1Z" fill="#95C312" stroke="#95C312" stroke-width="1" stroke-linejoin="round"/>
<path d="M617.2,245.8 V315.5 M611.2,245.8 H623.2 M611.2,315.5 H623.2" fill="none" stroke="#95C312" stroke-width="2.8"/>
<path d="M617.2,271.7 L624.4,280.7 L617.2,289.7 L610.0,280.7Z" fill="#95C312" stroke="#95C312" stroke-width="1" stroke-linejoin="round"/>
<path d="M674.7,258.5 V321.5 M668.7,258.5 H680.7 M668.7,321.5 H680.7" fill="none" stroke="#95C312" stroke-width="2.8"/>
<path d="M674.7,280.5 L681.9,289.5 L674.7,298.5 L667.5,289.5Z" fill="#95C312" stroke="#95C312" stroke-width="1" stroke-linejoin="round"/>
</g>
<line x1="98.5" y1="41.4" x2="685.1" y2="41.4" stroke="#666666" stroke-width="2.8"/>
<line x1="99.8" y1="40.0" x2="99.8" y2="366.8" stroke="#000" stroke-width="2.8"/>
<line x1="683.8" y1="40.0" x2="683.8" y2="366.8" stroke="#000" stroke-width="2.8"/>
<line x1="98.4" y1="365.4" x2="685.2" y2="365.4" stroke="#000" stroke-width="2.8"/>
<clipPath id="cl0"><rect x="80" y="44.3" width="20.0" height="24"/></clipPath>
<clipPath id="cr0"><rect x="100.0" y="44.3" width="20" height="24"/></clipPath>
<g clip-path="url(#cl0)"><rect x="93.8" y="50.1" width="12.4" height="12.4" rx="1.5" fill="#FF0000"/></g>
<g clip-path="url(#cr0)"><rect x="93.8" y="50.1" width="12.4" height="12.4" rx="1.5" fill="#E43C0A"/></g>
<g clip-path="url(#cl0)"><circle cx="100.0" cy="56.3" r="7.4" fill="#0000FF"/></g>
<g clip-path="url(#cr0)"><circle cx="100.0" cy="56.3" r="7.4" fill="#615B98"/></g>
<g clip-path="url(#cl0)"><path d="M100.0,47.3 L107.2,56.3 L100.0,65.3 L92.8,56.3Z" fill="#00FF00" stroke="#00FF00" stroke-width="1" stroke-linejoin="round"/></g>
<g clip-path="url(#cr0)"><path d="M100.0,47.3 L107.2,56.3 L100.0,65.3 L92.8,56.3Z" fill="#95C312" stroke="#95C312" stroke-width="1" stroke-linejoin="round"/></g>
<text x="90.5" y="361.9" text-anchor="end" class="tk">0</text>
<text x="90.5" y="303.0" text-anchor="end" class="tk">0.2</text>
<text x="90.5" y="244.0" text-anchor="end" class="tk">0.4</text>
<text x="90.5" y="185.1" text-anchor="end" class="tk">0.6</text>
<text x="90.5" y="126.1" text-anchor="end" class="tk">0.8</text>
<text x="90.5" y="67.2" text-anchor="end" class="tk">1</text>
<text x="100.0" y="404.2" text-anchor="middle" class="tk">-2</text>
<text x="214.9" y="404.2" text-anchor="middle" class="tk">0</text>
<text x="329.9" y="404.2" text-anchor="middle" class="tk">2</text>
<text x="444.8" y="404.2" text-anchor="middle" class="tk">4</text>
<text x="559.8" y="404.2" text-anchor="middle" class="tk">6</text>
<text x="674.7" y="404.2" text-anchor="middle" class="tk">8</text>
<rect x="101" y="473.2" width="581.5" height="319.6" fill="#FEF0D9"/>
<clipPath id="cp1"><rect x="101" y="473.2" width="581.5" height="321.4"/></clipPath>
<line x1="214.9" y1="472.0" x2="214.9" y2="479.0" stroke="#666666" stroke-width="2.4"/>
<line x1="214.9" y1="796.0" x2="214.9" y2="789.0" stroke="#555" stroke-width="2.4"/>
<line x1="329.9" y1="472.0" x2="329.9" y2="479.0" stroke="#666666" stroke-width="2.4"/>
<line x1="329.9" y1="796.0" x2="329.9" y2="789.0" stroke="#555" stroke-width="2.4"/>
<line x1="444.8" y1="472.0" x2="444.8" y2="479.0" stroke="#666666" stroke-width="2.4"/>
<line x1="444.8" y1="796.0" x2="444.8" y2="789.0" stroke="#555" stroke-width="2.4"/>
<line x1="559.8" y1="472.0" x2="559.8" y2="479.0" stroke="#666666" stroke-width="2.4"/>
<line x1="559.8" y1="796.0" x2="559.8" y2="789.0" stroke="#555" stroke-width="2.4"/>
<line x1="674.7" y1="472.0" x2="674.7" y2="479.0" stroke="#666666" stroke-width="2.4"/>
<line x1="674.7" y1="796.0" x2="674.7" y2="789.0" stroke="#555" stroke-width="2.4"/>
<line x1="99.8" y1="781.6" x2="107.3" y2="781.6" stroke="#666666" stroke-width="2.4"/>
<line x1="683.8" y1="781.6" x2="676.3" y2="781.6" stroke="#666666" stroke-width="2.4"/>
<line x1="99.8" y1="722.7" x2="107.3" y2="722.7" stroke="#666666" stroke-width="2.4"/>
<line x1="683.8" y1="722.7" x2="676.3" y2="722.7" stroke="#666666" stroke-width="2.4"/>
<line x1="99.8" y1="663.7" x2="107.3" y2="663.7" stroke="#666666" stroke-width="2.4"/>
<line x1="683.8" y1="663.7" x2="676.3" y2="663.7" stroke="#666666" stroke-width="2.4"/>
<line x1="99.8" y1="604.8" x2="107.3" y2="604.8" stroke="#666666" stroke-width="2.4"/>
<line x1="683.8" y1="604.8" x2="676.3" y2="604.8" stroke="#666666" stroke-width="2.4"/>
<line x1="99.8" y1="545.8" x2="107.3" y2="545.8" stroke="#666666" stroke-width="2.4"/>
<line x1="683.8" y1="545.8" x2="676.3" y2="545.8" stroke="#666666" stroke-width="2.4"/>
<line x1="99.8" y1="486.9" x2="107.3" y2="486.9" stroke="#666666" stroke-width="2.4"/>
<line x1="683.8" y1="486.9" x2="676.3" y2="486.9" stroke="#666666" stroke-width="2.4"/>
<g clip-path="url(#cp1)">
<path d="M100.0,486.6 L101.0,486.6 L102.0,486.6 L103.0,486.7 L104.0,486.7 L105.0,486.7 L106.0,486.7 L107.0,486.7 L108.0,486.8 L109.0,486.8 L110.0,486.8 L111.0,486.8 L112.0,486.8 L113.0,486.9 L114.0,486.9 L115.0,486.9 L116.0,486.9 L117.0,486.9 L118.0,486.9 L119.0,487.0 L120.0,487.0 L121.0,487.0 L122.0,487.0 L123.0,487.0 L124.0,487.1 L125.0,487.1 L126.0,487.1 L127.0,487.1 L128.0,487.1 L129.0,487.1 L130.0,487.2 L131.0,487.2 L132.0,487.2 L133.0,487.2 L134.0,487.2 L135.0,487.3 L136.0,487.3 L137.0,487.3 L138.0,487.3 L139.0,487.3 L140.0,487.4 L141.0,487.4 L142.0,487.4 L143.0,487.4 L144.0,487.4 L145.0,487.5 L146.0,487.5 L147.0,487.5 L148.0,487.5 L149.0,487.5 L150.0,487.6 L151.0,487.6 L152.0,487.6 L153.0,487.6 L154.0,487.7 L155.0,487.7 L156.0,487.7 L157.0,487.7 L158.0,487.7 L159.0,487.8 L160.0,487.8 L161.0,487.8 L162.0,487.8 L163.0,487.9 L164.0,487.9 L165.0,487.9 L166.0,487.9 L167.0,488.0 L168.0,488.0 L169.0,488.0 L170.0,488.1 L171.0,488.1 L172.0,488.1 L173.0,488.1 L174.0,488.2 L175.0,488.2 L176.0,488.3 L177.0,488.3 L178.0,488.3 L179.0,488.4 L180.0,488.4 L181.0,488.5 L182.0,488.5 L183.0,488.6 L184.0,488.6 L185.0,488.7 L186.0,488.8 L187.0,488.8 L188.0,488.9 L189.0,489.0 L190.0,489.1 L191.0,489.2 L192.0,489.4 L193.0,489.5 L194.0,489.7 L195.0,489.9 L196.0,490.1 L197.0,490.4 L198.0,490.6 L199.0,490.8 L200.0,491.1 L201.0,491.3 L202.0,491.6 L203.0,491.9 L204.0,492.1 L205.0,492.4 L206.0,492.7 L207.0,493.0 L208.0,493.4 L209.0,493.7 L210.0,494.0 L211.0,494.3 L212.0,494.6 L213.0,494.9 L214.0,495.2 L215.0,495.5 L216.0,495.8 L217.0,496.1 L218.0,496.4 L219.0,496.7 L220.0,497.0 L221.0,497.3 L222.0,497.7 L223.0,498.0 L224.0,498.4 L225.0,498.8 L226.0,499.2 L227.0,499.6 L228.0,500.0 L229.0,500.5 L230.0,500.9 L231.0,501.4 L232.0,501.9 L233.0,502.4 L234.0,502.9 L235.0,503.4 L236.0,504.0 L237.0,504.5 L238.0,505.1 L239.0,505.7 L240.0,506.3 L241.0,506.9 L242.0,507.5 L243.0,508.1 L244.0,508.7 L245.0,509.3 L246.0,510.0 L247.0,510.6 L248.0,511.3 L249.0,511.9 L250.0,512.6 L251.0,513.3 L252.0,513.9 L253.0,514.6 L254.0,515.3 L255.0,516.0 L256.0,516.8 L257.0,517.5 L258.0,518.3 L259.0,519.0 L260.0,519.8 L261.0,520.7 L262.0,521.5 L263.0,522.4 L264.0,523.3 L265.0,524.2 L266.0,525.1 L267.0,526.1 L268.0,527.0 L269.0,528.0 L270.0,529.0 L271.0,530.0 L272.0,531.0 L273.0,532.0 L274.0,533.1 L275.0,534.2 L276.0,535.4 L277.0,536.6 L278.0,538.0 L279.0,539.4 L280.0,540.8 L281.0,542.3 L282.0,543.9 L283.0,545.5 L284.0,547.1 L285.0,548.7 L286.0,550.3 L287.0,551.8 L288.0,553.3 L289.0,554.9 L290.0,556.4 L291.0,557.9 L292.0,559.4 L293.0,560.9 L294.0,562.4 L295.0,563.9 L296.0,565.4 L297.0,567.0 L298.0,568.5 L299.0,570.0 L300.0,571.6 L301.0,573.2 L302.0,574.9 L303.0,576.5 L304.0,578.3 L305.0,580.1 L306.0,582.0 L307.0,583.9 L308.0,585.9 L309.0,588.1 L310.0,590.3 L311.0,592.6 L312.0,595.0 L313.0,597.4 L314.0,599.9 L315.0,602.5 L316.0,605.0 L317.0,607.6 L318.0,610.1 L319.0,612.6 L320.0,615.0 L321.0,617.4 L322.0,619.8 L323.0,622.1 L324.0,624.4 L325.0,626.6 L326.0,628.8 L327.0,631.0 L328.0,633.2 L329.0,635.4 L330.0,637.6 L331.0,639.8 L332.0,642.1 L333.0,644.3 L334.0,646.6 L335.0,648.8 L336.0,651.1 L337.0,653.4 L338.0,655.6 L339.0,657.9 L340.0,660.0 L341.0,662.2 L342.0,664.2 L343.0,666.2 L344.0,668.1 L345.0,669.8 L346.0,671.5 L347.0,673.0 L348.0,674.5 L349.0,675.7 L350.0,676.9 L351.0,678.0 L352.0,678.9 L353.0,679.8 L354.0,680.5 L355.0,681.2 L356.0,681.9 L357.0,682.5 L358.0,683.0 L359.0,683.5 L360.0,683.9 L361.0,684.3 L362.0,684.5 L363.0,684.6 L364.0,684.6 L365.0,684.5 L366.0,684.3 L367.0,684.0 L368.0,683.6 L369.0,683.2 L370.0,682.7 L371.0,682.3 L372.0,681.8 L373.0,681.3 L374.0,680.8 L375.0,680.3 L376.0,679.9 L377.0,679.4 L378.0,679.0 L379.0,678.6 L380.0,678.1 L381.0,677.7 L382.0,677.4 L383.0,677.0 L384.0,676.6 L385.0,676.1 L386.0,675.7 L387.0,675.3 L388.0,674.9 L389.0,674.7 L390.0,674.5 L391.0,674.4 L392.0,674.4 L393.0,674.4 L394.0,674.4 L395.0,674.2 L396.0,674.0 L397.0,673.8 L398.0,673.5 L399.0,673.4 L400.0,673.4 L401.0,673.6 L402.0,673.9 L403.0,674.3 L404.0,674.8 L405.0,675.2 L406.0,675.6 L407.0,676.0 L408.0,676.4 L409.0,676.8 L410.0,677.3 L411.0,677.7 L412.0,678.0 L413.0,678.2 L414.0,678.3 L415.0,678.4 L416.0,678.5 L417.0,678.5 L418.0,678.6 L419.0,678.7 L420.0,678.9 L421.0,679.0 L422.0,679.0 L423.0,679.1 L424.0,679.1 L425.0,679.2 L426.0,679.2 L427.0,679.3 L428.0,679.3 L429.0,679.3 L430.0,679.3 L431.0,679.3 L432.0,679.4 L433.0,679.4 L434.0,679.5 L435.0,679.5 L436.0,679.6 L437.0,679.6 L438.0,679.6 L439.0,679.6 L440.0,679.6 L441.0,679.6 L442.0,679.6 L443.0,679.6 L444.0,679.6 L445.0,679.7 L446.0,679.7 L447.0,679.7 L448.0,679.7 L449.0,679.7 L450.0,679.5 L451.0,679.3 L452.0,679.2 L453.0,679.0 L454.0,679.0 L455.0,678.9 L456.0,678.9 L457.0,678.9 L458.0,678.8 L459.0,678.8 L460.0,678.7 L461.0,678.7 L462.0,678.6 L463.0,678.4 L464.0,678.3 L465.0,678.2 L466.0,678.1 L467.0,678.1 L468.0,678.0 L469.0,677.9 L470.0,677.8 L471.0,677.8 L472.0,677.8 L473.0,677.8 L474.0,678.0 L475.0,678.1 L476.0,678.3 L477.0,678.5 L478.0,678.5 L479.0,678.6 L480.0,678.9 L481.0,679.3 L482.0,679.7 L483.0,680.1 L484.0,680.2 L485.0,680.1 L486.0,679.9 L487.0,679.6 L488.0,679.3 L489.0,679.0 L490.0,678.9 L491.0,678.9 L492.0,678.7 L493.0,678.5 L494.0,678.3 L495.0,678.2 L496.0,678.1 L497.0,678.2 L498.0,678.3 L499.0,678.5 L500.0,678.7 L501.0,678.9 L502.0,678.9 L503.0,679.0 L504.0,679.1 L505.0,679.3 L506.0,679.4 L507.0,679.6 L508.0,679.6 L509.0,679.6 L510.0,679.7 L511.0,679.7 L512.0,679.8 L513.0,679.8 L514.0,679.9 L515.0,679.8 L516.0,679.5 L517.0,679.3 L518.0,679.0 L519.0,678.7 L520.0,678.7 L521.0,678.7 L522.0,678.8 L523.0,679.0 L524.0,679.1 L525.0,679.2 L526.0,679.3 L527.0,679.2 L528.0,678.9 L529.0,678.6 L530.0,678.2 L531.0,678.0 L532.0,677.8 L533.0,678.0 L534.0,678.4 L535.0,678.9 L536.0,679.4 L537.0,679.7 L538.0,679.9 L539.0,679.8 L540.0,679.6 L541.0,679.3 L542.0,679.0 L543.0,678.8 L544.0,678.7 L545.0,678.7 L546.0,678.5 L547.0,678.4 L548.0,678.2 L549.0,678.0 L550.0,678.0 L551.0,678.0 L552.0,678.1 L553.0,678.1 L554.0,678.2 L555.0,678.2 L556.0,678.2 L557.0,678.4 L558.0,678.6 L559.0,679.0 L560.0,679.4 L561.0,679.7 L562.0,679.8 L563.0,679.8 L564.0,679.9 L565.0,679.9 L566.0,680.0 L567.0,680.0 L568.0,680.0 L569.0,679.9 L570.0,679.5 L571.0,679.1 L572.0,678.7 L573.0,678.4 L574.0,678.2 L575.0,678.4 L576.0,678.7 L577.0,679.2 L578.0,679.7 L579.0,680.1 L580.0,680.2 L581.0,680.1 L582.0,679.7 L583.0,679.2 L584.0,678.8 L585.0,678.4 L586.0,678.3 L587.0,678.3 L588.0,678.2 L589.0,678.1 L590.0,678.0 L591.0,677.9 L592.0,677.9 L593.0,677.9 L594.0,677.9 L595.0,677.8 L596.0,677.8 L597.0,677.8 L598.0,677.8 L599.0,677.8 L600.0,677.9 L601.0,678.0 L602.0,678.0 L603.0,678.1 L604.0,678.1 L605.0,678.2 L606.0,678.5 L607.0,678.8 L608.0,679.2 L609.0,679.5 L610.0,679.6 L611.0,679.5 L612.0,679.5 L613.0,679.4 L614.0,679.3 L615.0,679.2 L616.0,679.2 L617.0,679.2 L618.0,679.4 L619.0,679.6 L620.0,679.8 L621.0,680.0 L622.0,680.1 L623.0,679.9 L624.0,679.6 L625.0,679.2 L626.0,678.7 L627.0,678.4 L628.0,678.2 L629.0,678.2 L630.0,678.2 L631.0,678.2 L632.0,678.2 L633.0,678.1 L634.0,678.1 L635.0,678.3 L636.0,678.6 L637.0,679.0 L638.0,679.5 L639.0,679.8 L640.0,679.9 L641.0,679.9 L642.0,679.7 L643.0,679.4 L644.0,679.2 L645.0,679.0 L646.0,678.9 L647.0,678.9 L648.0,678.9 L649.0,678.9 L650.0,678.9 L651.0,678.9 L652.0,678.9 L653.0,679.0 L654.0,679.1 L655.0,679.3 L656.0,679.5 L657.0,679.6 L658.0,679.7 L659.0,679.5 L660.0,679.2 L661.0,678.7 L662.0,678.2 L663.0,677.8 L664.0,677.7 L665.0,677.7 L666.0,677.7 L667.0,677.8 L668.0,677.8 L669.0,677.8 L670.0,677.8 L671.0,677.8 L672.0,677.9 L673.0,677.9 L674.0,677.9 L675.0,677.9 L676.0,677.9 L677.0,678.0 L678.0,678.1 L679.0,678.3 L680.0,678.4 L681.0,678.6 L682.0,678.6 L683.0,678.6" fill="none" stroke="#E43C0A" stroke-width="3.0" stroke-linejoin="round" stroke-linecap="round"/>
<path d="M100.0,486.8 L101.0,486.9 L102.0,487.0 L103.0,487.1 L104.0,487.3 L105.0,487.4 L106.0,487.6 L107.0,487.7 L108.0,487.9 L109.0,488.0 L110.0,488.2 L111.0,488.3 L112.0,488.5 L113.0,488.6 L114.0,488.8 L115.0,488.9 L116.0,489.1 L117.0,489.2 L118.0,489.4 L119.0,489.5 L120.0,489.7 L121.0,489.8 L122.0,490.0 L123.0,490.2 L124.0,490.3 L125.0,490.5 L126.0,490.6 L127.0,490.8 L128.0,490.9 L129.0,491.1 L130.0,491.3 L131.0,491.4 L132.0,491.6 L133.0,491.8 L134.0,492.0 L135.0,492.1 L136.0,492.3 L137.0,492.5 L138.0,492.7 L139.0,492.9 L140.0,493.0 L141.0,493.2 L142.0,493.4 L143.0,493.6 L144.0,493.8 L145.0,494.0 L146.0,494.3 L147.0,494.5 L148.0,494.7 L149.0,494.9 L150.0,495.2 L151.0,495.4 L152.0,495.7 L153.0,495.9 L154.0,496.2 L155.0,496.5 L156.0,496.8 L157.0,497.2 L158.0,497.5 L159.0,497.9 L160.0,498.3 L161.0,498.7 L162.0,499.2 L163.0,499.7 L164.0,500.2 L165.0,500.8 L166.0,501.4 L167.0,502.0 L168.0,502.7 L169.0,503.5 L170.0,504.3 L171.0,505.1 L172.0,506.1 L173.0,507.0 L174.0,508.0 L175.0,509.1 L176.0,510.1 L177.0,511.2 L178.0,512.3 L179.0,513.3 L180.0,514.4 L181.0,515.6 L182.0,516.7 L183.0,517.9 L184.0,519.2 L185.0,520.5 L186.0,521.9 L187.0,523.3 L188.0,524.9 L189.0,526.4 L190.0,528.0 L191.0,529.6 L192.0,531.2 L193.0,532.8 L194.0,534.5 L195.0,536.1 L196.0,537.8 L197.0,539.6 L198.0,541.4 L199.0,543.3 L200.0,545.2 L201.0,547.2 L202.0,549.3 L203.0,551.4 L204.0,553.6 L205.0,555.8 L206.0,557.9 L207.0,560.1 L208.0,562.3 L209.0,564.5 L210.0,566.6 L211.0,568.8 L212.0,571.0 L213.0,573.2 L214.0,575.5 L215.0,577.8 L216.0,580.1 L217.0,582.6 L218.0,585.1 L219.0,587.6 L220.0,590.3 L221.0,593.1 L222.0,596.0 L223.0,599.1 L224.0,602.2 L225.0,605.6 L226.0,609.0 L227.0,612.5 L228.0,616.1 L229.0,619.8 L230.0,623.5 L231.0,627.3 L232.0,631.0 L233.0,634.8 L234.0,638.6 L235.0,642.5 L236.0,646.3 L237.0,650.2 L238.0,654.1 L239.0,658.1 L240.0,662.1 L241.0,666.0 L242.0,670.0 L243.0,674.0 L244.0,677.9 L245.0,681.7 L246.0,685.5 L247.0,689.2 L248.0,692.8 L249.0,696.3 L250.0,699.8 L251.0,703.1 L252.0,706.4 L253.0,709.5 L254.0,712.6 L255.0,715.5 L256.0,718.3 L257.0,721.0 L258.0,723.6 L259.0,726.0 L260.0,728.2 L261.0,730.2 L262.0,732.0 L263.0,733.6 L264.0,735.0 L265.0,736.2 L266.0,737.2 L267.0,738.0 L268.0,738.7 L269.0,739.2 L270.0,739.5 L271.0,739.7 L272.0,739.8 L273.0,739.7 L274.0,739.6 L275.0,739.5 L276.0,739.3 L277.0,739.2 L278.0,739.1 L279.0,738.9 L280.0,738.8 L281.0,738.8 L282.0,738.7 L283.0,738.8 L284.0,738.9 L285.0,739.0 L286.0,739.3 L287.0,739.6 L288.0,739.9 L289.0,740.2 L290.0,740.6 L291.0,740.9 L292.0,741.2 L293.0,741.5 L294.0,741.7 L295.0,742.0 L296.0,742.3 L297.0,742.6 L298.0,742.8 L299.0,742.9 L300.0,743.0 L301.0,743.1 L302.0,743.2 L303.0,743.3 L304.0,743.4 L305.0,743.5 L306.0,743.6 L307.0,743.6 L308.0,743.6 L309.0,743.6 L310.0,743.7 L311.0,743.8 L312.0,743.9 L313.0,744.0 L314.0,744.1 L315.0,744.2 L316.0,744.3 L317.0,744.5 L318.0,744.8 L319.0,745.2 L320.0,745.5 L321.0,745.8 L322.0,746.0 L323.0,746.0 L324.0,745.8 L325.0,745.6 L326.0,745.4 L327.0,745.3 L328.0,745.2 L329.0,745.1 L330.0,744.9 L331.0,744.5 L332.0,744.1 L333.0,743.9 L334.0,743.7 L335.0,743.9 L336.0,744.3 L337.0,744.8 L338.0,745.4 L339.0,745.8 L340.0,745.9 L341.0,745.8 L342.0,745.6 L343.0,745.3 L344.0,745.0 L345.0,744.8 L346.0,744.7 L347.0,744.7 L348.0,744.6 L349.0,744.5 L350.0,744.5 L351.0,744.4 L352.0,744.3 L353.0,744.4 L354.0,744.4 L355.0,744.5 L356.0,744.6 L357.0,744.7 L358.0,744.7 L359.0,744.7 L360.0,744.5 L361.0,744.3 L362.0,744.1 L363.0,744.0 L364.0,743.9 L365.0,743.9 L366.0,744.2 L367.0,744.4 L368.0,744.7 L369.0,744.9 L370.0,745.0 L371.0,744.9 L372.0,744.9 L373.0,744.8 L374.0,744.8 L375.0,744.7 L376.0,744.7 L377.0,744.6 L378.0,744.5 L379.0,744.4 L380.0,744.3 L381.0,744.2 L382.0,744.1 L383.0,744.1 L384.0,744.1 L385.0,744.1 L386.0,744.1 L387.0,744.1 L388.0,744.1 L389.0,744.0 L390.0,743.9 L391.0,743.8 L392.0,743.7 L393.0,743.6 L394.0,743.5 L395.0,743.6 L396.0,743.7 L397.0,743.9 L398.0,744.1 L399.0,744.3 L400.0,744.3 L401.0,744.3 L402.0,744.3 L403.0,744.4 L404.0,744.5 L405.0,744.5 L406.0,744.5 L407.0,744.3 L408.0,743.9 L409.0,743.4 L410.0,742.9 L411.0,742.5 L412.0,742.3 L413.0,742.3 L414.0,742.6 L415.0,742.9 L416.0,743.2 L417.0,743.5 L418.0,743.6 L419.0,743.6 L420.0,743.6 L421.0,743.7 L422.0,743.7 L423.0,743.8 L424.0,743.8 L425.0,743.8 L426.0,743.8 L427.0,743.9 L428.0,744.0 L429.0,744.0 L430.0,744.0 L431.0,743.9 L432.0,743.8 L433.0,743.6 L434.0,743.4 L435.0,743.3 L436.0,743.2 L437.0,743.2 L438.0,743.2 L439.0,743.3 L440.0,743.4 L441.0,743.4 L442.0,743.4 L443.0,743.3 L444.0,743.2 L445.0,742.9 L446.0,742.7 L447.0,742.5 L448.0,742.4 L449.0,742.4 L450.0,742.5 L451.0,742.6 L452.0,742.7 L453.0,742.8 L454.0,742.8 L455.0,742.7 L456.0,742.7 L457.0,742.6 L458.0,742.5 L459.0,742.4 L460.0,742.3 L461.0,742.2 L462.0,742.0 L463.0,741.6 L464.0,741.3 L465.0,741.0 L466.0,740.9 L467.0,741.0 L468.0,741.2 L469.0,741.4 L470.0,741.7 L471.0,741.9 L472.0,742.0 L473.0,741.9 L474.0,741.9 L475.0,741.8 L476.0,741.7 L477.0,741.6 L478.0,741.6 L479.0,741.6 L480.0,741.5 L481.0,741.4 L482.0,741.3 L483.0,741.3 L484.0,741.3 L485.0,741.2 L486.0,741.0 L487.0,740.8 L488.0,740.6 L489.0,740.5 L490.0,740.4 L491.0,740.5 L492.0,740.9 L493.0,741.3 L494.0,741.7 L495.0,742.1 L496.0,742.2 L497.0,742.1 L498.0,742.1 L499.0,742.0 L500.0,741.9 L501.0,741.8 L502.0,741.8 L503.0,741.8 L504.0,741.8 L505.0,741.8 L506.0,741.8 L507.0,741.7 L508.0,741.7 L509.0,741.6 L510.0,741.4 L511.0,741.1 L512.0,740.7 L513.0,740.5 L514.0,740.4 L515.0,740.4 L516.0,740.3 L517.0,740.3 L518.0,740.3 L519.0,740.2 L520.0,740.2 L521.0,740.2 L522.0,740.3 L523.0,740.3 L524.0,740.3 L525.0,740.3 L526.0,740.3 L527.0,740.4 L528.0,740.5 L529.0,740.6 L530.0,740.8 L531.0,740.9 L532.0,740.9 L533.0,740.9 L534.0,740.9 L535.0,740.9 L536.0,740.9 L537.0,740.9 L538.0,740.9 L539.0,741.0 L540.0,741.2 L541.0,741.4 L542.0,741.7 L543.0,741.9 L544.0,742.0 L545.0,741.9 L546.0,741.8 L547.0,741.6 L548.0,741.4 L549.0,741.2 L550.0,741.2 L551.0,741.3 L552.0,741.6 L553.0,742.0 L554.0,742.3 L555.0,742.6 L556.0,742.8 L557.0,742.6 L558.0,742.1 L559.0,741.6 L560.0,741.0 L561.0,740.5 L562.0,740.3 L563.0,740.4 L564.0,740.6 L565.0,740.8 L566.0,741.0 L567.0,741.2 L568.0,741.3 L569.0,741.3 L570.0,741.6 L571.0,741.9 L572.0,742.2 L573.0,742.4 L574.0,742.5 L575.0,742.4 L576.0,742.3 L577.0,742.0 L578.0,741.8 L579.0,741.6 L580.0,741.5 L581.0,741.6 L582.0,741.7 L583.0,741.8 L584.0,741.9 L585.0,741.9 L586.0,742.0 L587.0,742.0 L588.0,742.1 L589.0,742.2 L590.0,742.3 L591.0,742.4 L592.0,742.4 L593.0,742.4 L594.0,742.3 L595.0,742.2 L596.0,742.0 L597.0,741.9 L598.0,741.9 L599.0,741.8 L600.0,741.6 L601.0,741.3 L602.0,741.0 L603.0,740.7 L604.0,740.7 L605.0,740.6 L606.0,740.6 L607.0,740.5 L608.0,740.4 L609.0,740.4 L610.0,740.3 L611.0,740.5 L612.0,741.0 L613.0,741.5 L614.0,742.1 L615.0,742.6 L616.0,742.7 L617.0,742.6 L618.0,742.4 L619.0,742.0 L620.0,741.7 L621.0,741.4 L622.0,741.3 L623.0,741.3 L624.0,741.3 L625.0,741.4 L626.0,741.5 L627.0,741.5 L628.0,741.5 L629.0,741.5 L630.0,741.3 L631.0,741.0 L632.0,740.8 L633.0,740.6 L634.0,740.5 L635.0,740.6 L636.0,740.8 L637.0,741.0 L638.0,741.2 L639.0,741.4 L640.0,741.5 L641.0,741.5 L642.0,741.4 L643.0,741.3 L644.0,741.2 L645.0,741.1 L646.0,741.1 L647.0,741.1 L648.0,741.0 L649.0,740.9 L650.0,740.8 L651.0,740.7 L652.0,740.6 L653.0,740.7 L654.0,741.0 L655.0,741.3 L656.0,741.6 L657.0,741.9 L658.0,742.0 L659.0,742.0 L660.0,742.0 L661.0,742.0 L662.0,742.0 L663.0,742.0 L664.0,742.0 L665.0,742.0 L666.0,741.9 L667.0,741.9 L668.0,741.8 L669.0,741.8 L670.0,741.8 L671.0,741.8 L672.0,741.9 L673.0,742.1 L674.0,742.2 L675.0,742.3 L676.0,742.4 L677.0,742.4 L678.0,742.5 L679.0,742.5 L680.0,742.6 L681.0,742.7 L682.0,742.7 L683.0,742.7" fill="none" stroke="#615B98" stroke-width="3.0" stroke-linejoin="round" stroke-linecap="round"/>
<path d="M100.0,486.6 L101.0,486.7 L102.0,486.7 L103.0,486.7 L104.0,486.8 L105.0,486.8 L106.0,486.9 L107.0,486.9 L108.0,486.9 L109.0,487.0 L110.0,487.0 L111.0,487.1 L112.0,487.1 L113.0,487.1 L114.0,487.2 L115.0,487.2 L116.0,487.3 L117.0,487.3 L118.0,487.3 L119.0,487.4 L120.0,487.4 L121.0,487.5 L122.0,487.5 L123.0,487.5 L124.0,487.6 L125.0,487.6 L126.0,487.7 L127.0,487.7 L128.0,487.8 L129.0,487.8 L130.0,487.8 L131.0,487.9 L132.0,487.9 L133.0,488.0 L134.0,488.0 L135.0,488.0 L136.0,488.1 L137.0,488.1 L138.0,488.2 L139.0,488.2 L140.0,488.3 L141.0,488.3 L142.0,488.3 L143.0,488.4 L144.0,488.4 L145.0,488.5 L146.0,488.5 L147.0,488.6 L148.0,488.6 L149.0,488.6 L150.0,488.7 L151.0,488.7 L152.0,488.8 L153.0,488.8 L154.0,488.9 L155.0,488.9 L156.0,489.0 L157.0,489.0 L158.0,489.0 L159.0,489.1 L160.0,489.1 L161.0,489.2 L162.0,489.2 L163.0,489.3 L164.0,489.3 L165.0,489.4 L166.0,489.4 L167.0,489.5 L168.0,489.5 L169.0,489.6 L170.0,489.6 L171.0,489.7 L172.0,489.7 L173.0,489.8 L174.0,489.8 L175.0,489.9 L176.0,490.0 L177.0,490.0 L178.0,490.1 L179.0,490.1 L180.0,490.2 L181.0,490.3 L182.0,490.4 L183.0,490.4 L184.0,490.5 L185.0,490.6 L186.0,490.7 L187.0,490.8 L188.0,490.9 L189.0,491.0 L190.0,491.1 L191.0,491.3 L192.0,491.5 L193.0,491.6 L194.0,491.9 L195.0,492.1 L196.0,492.3 L197.0,492.6 L198.0,492.9 L199.0,493.1 L200.0,493.4 L201.0,493.6 L202.0,493.9 L203.0,494.1 L204.0,494.4 L205.0,494.7 L206.0,495.0 L207.0,495.3 L208.0,495.6 L209.0,496.0 L210.0,496.3 L211.0,496.7 L212.0,497.0 L213.0,497.4 L214.0,497.7 L215.0,498.1 L216.0,498.5 L217.0,498.9 L218.0,499.3 L219.0,499.7 L220.0,500.1 L221.0,500.5 L222.0,501.0 L223.0,501.5 L224.0,502.0 L225.0,502.5 L226.0,503.0 L227.0,503.6 L228.0,504.2 L229.0,504.8 L230.0,505.4 L231.0,506.0 L232.0,506.6 L233.0,507.3 L234.0,507.9 L235.0,508.6 L236.0,509.3 L237.0,510.0 L238.0,510.6 L239.0,511.3 L240.0,512.0 L241.0,512.8 L242.0,513.5 L243.0,514.3 L244.0,515.1 L245.0,516.0 L246.0,516.9 L247.0,517.8 L248.0,518.8 L249.0,519.8 L250.0,520.9 L251.0,521.9 L252.0,523.0 L253.0,524.1 L254.0,525.3 L255.0,526.4 L256.0,527.6 L257.0,528.8 L258.0,529.9 L259.0,531.2 L260.0,532.4 L261.0,533.6 L262.0,534.9 L263.0,536.2 L264.0,537.6 L265.0,538.9 L266.0,540.3 L267.0,541.7 L268.0,543.0 L269.0,544.4 L270.0,545.8 L271.0,547.2 L272.0,548.7 L273.0,550.2 L274.0,551.7 L275.0,553.4 L276.0,555.1 L277.0,556.9 L278.0,558.8 L279.0,560.7 L280.0,562.7 L281.0,564.8 L282.0,566.8 L283.0,568.9 L284.0,571.0 L285.0,573.1 L286.0,575.3 L287.0,577.5 L288.0,579.7 L289.0,581.9 L290.0,584.2 L291.0,586.5 L292.0,588.9 L293.0,591.2 L294.0,593.4 L295.0,595.6 L296.0,597.7 L297.0,599.7 L298.0,601.6 L299.0,603.5 L300.0,605.4 L301.0,607.4 L302.0,609.4 L303.0,611.5 L304.0,613.6 L305.0,615.8 L306.0,618.0 L307.0,620.2 L308.0,622.4 L309.0,624.6 L310.0,626.8 L311.0,629.1 L312.0,631.3 L313.0,633.6 L314.0,636.0 L315.0,638.3 L316.0,640.7 L317.0,643.2 L318.0,645.6 L319.0,648.2 L320.0,650.7 L321.0,653.3 L322.0,655.7 L323.0,658.1 L324.0,660.3 L325.0,662.3 L326.0,664.3 L327.0,666.1 L328.0,667.9 L329.0,669.8 L330.0,671.8 L331.0,673.9 L332.0,676.2 L333.0,678.6 L334.0,681.0 L335.0,683.5 L336.0,685.8 L337.0,688.1 L338.0,690.3 L339.0,692.4 L340.0,694.4 L341.0,696.5 L342.0,698.5 L343.0,700.5 L344.0,702.4 L345.0,704.4 L346.0,706.3 L347.0,708.1 L348.0,709.8 L349.0,711.4 L350.0,712.9 L351.0,714.3 L352.0,715.6 L353.0,716.8 L354.0,717.8 L355.0,718.7 L356.0,719.6 L357.0,720.3 L358.0,720.9 L359.0,721.4 L360.0,721.9 L361.0,722.3 L362.0,722.6 L363.0,722.9 L364.0,723.1 L365.0,723.2 L366.0,723.3 L367.0,723.4 L368.0,723.4 L369.0,723.4 L370.0,723.3 L371.0,723.3 L372.0,723.1 L373.0,723.0 L374.0,722.8 L375.0,722.6 L376.0,722.3 L377.0,722.1 L378.0,721.8 L379.0,721.5 L380.0,721.2 L381.0,720.8 L382.0,720.4 L383.0,720.0 L384.0,719.6 L385.0,719.3 L386.0,718.9 L387.0,718.7 L388.0,718.4 L389.0,718.3 L390.0,718.1 L391.0,718.1 L392.0,718.0 L393.0,718.0 L394.0,718.0 L395.0,718.0 L396.0,718.0 L397.0,718.1 L398.0,718.1 L399.0,718.1 L400.0,718.2 L401.0,718.3 L402.0,718.5 L403.0,718.8 L404.0,719.2 L405.0,719.5 L406.0,719.8 L407.0,720.0 L408.0,720.2 L409.0,720.4 L410.0,720.5 L411.0,720.7 L412.0,720.8 L413.0,721.0 L414.0,721.2 L415.0,721.4 L416.0,721.6 L417.0,721.8 L418.0,721.9 L419.0,722.1 L420.0,722.4 L421.0,722.7 L422.0,723.0 L423.0,723.3 L424.0,723.5 L425.0,723.5 L426.0,723.3 L427.0,723.0 L428.0,722.7 L429.0,722.5 L430.0,722.5 L431.0,722.6 L432.0,722.8 L433.0,722.9 L434.0,723.0 L435.0,723.1 L436.0,723.2 L437.0,723.4 L438.0,723.7 L439.0,724.1 L440.0,724.5 L441.0,724.8 L442.0,725.0 L443.0,725.1 L444.0,725.3 L445.0,725.6 L446.0,725.9 L447.0,726.1 L448.0,726.2 L449.0,726.3 L450.0,726.4 L451.0,726.5 L452.0,726.6 L453.0,726.7 L454.0,726.8 L455.0,726.8 L456.0,726.8 L457.0,726.8 L458.0,726.7 L459.0,726.7 L460.0,726.8 L461.0,726.8 L462.0,726.7 L463.0,726.6 L464.0,726.5 L465.0,726.5 L466.0,726.5 L467.0,726.5 L468.0,726.4 L469.0,726.2 L470.0,726.1 L471.0,726.0 L472.0,726.0 L473.0,726.1 L474.0,726.3 L475.0,726.6 L476.0,726.9 L477.0,727.1 L478.0,727.2 L479.0,727.2 L480.0,727.1 L481.0,727.0 L482.0,726.9 L483.0,726.9 L484.0,726.8 L485.0,726.9 L486.0,727.0 L487.0,727.2 L488.0,727.3 L489.0,727.4 L490.0,727.5 L491.0,727.5 L492.0,727.4 L493.0,727.3 L494.0,727.3 L495.0,727.2 L496.0,727.2 L497.0,727.1 L498.0,727.0 L499.0,726.8 L500.0,726.7 L501.0,726.5 L502.0,726.5 L503.0,726.5 L504.0,726.6 L505.0,726.7 L506.0,726.8 L507.0,726.8 L508.0,726.9 L509.0,726.8 L510.0,726.6 L511.0,726.3 L512.0,726.0 L513.0,725.8 L514.0,725.7 L515.0,725.7 L516.0,725.8 L517.0,725.8 L518.0,725.9 L519.0,725.9 L520.0,725.9 L521.0,726.0 L522.0,726.3 L523.0,726.6 L524.0,726.9 L525.0,727.1 L526.0,727.2 L527.0,727.2 L528.0,727.2 L529.0,727.1 L530.0,727.1 L531.0,727.1 L532.0,727.1 L533.0,726.9 L534.0,726.6 L535.0,726.2 L536.0,725.8 L537.0,725.4 L538.0,725.3 L539.0,725.3 L540.0,725.4 L541.0,725.5 L542.0,725.7 L543.0,725.7 L544.0,725.8 L545.0,725.8 L546.0,725.9 L547.0,726.0 L548.0,726.2 L549.0,726.3 L550.0,726.3 L551.0,726.4 L552.0,726.4 L553.0,726.5 L554.0,726.6 L555.0,726.7 L556.0,726.7 L557.0,726.7 L558.0,726.6 L559.0,726.4 L560.0,726.3 L561.0,726.2 L562.0,726.1 L563.0,726.1 L564.0,726.1 L565.0,726.2 L566.0,726.2 L567.0,726.2 L568.0,726.2 L569.0,726.3 L570.0,726.6 L571.0,726.9 L572.0,727.3 L573.0,727.6 L574.0,727.7 L575.0,727.6 L576.0,727.3 L577.0,726.9 L578.0,726.6 L579.0,726.3 L580.0,726.2 L581.0,726.2 L582.0,726.2 L583.0,726.3 L584.0,726.3 L585.0,726.3 L586.0,726.4 L587.0,726.4 L588.0,726.7 L589.0,727.0 L590.0,727.3 L591.0,727.5 L592.0,727.6 L593.0,727.5 L594.0,727.2 L595.0,726.8 L596.0,726.4 L597.0,726.2 L598.0,726.0 L599.0,726.1 L600.0,726.2 L601.0,726.3 L602.0,726.4 L603.0,726.5 L604.0,726.6 L605.0,726.5 L606.0,726.3 L607.0,726.1 L608.0,725.9 L609.0,725.7 L610.0,725.6 L611.0,725.7 L612.0,726.1 L613.0,726.5 L614.0,726.9 L615.0,727.2 L616.0,727.4 L617.0,727.4 L618.0,727.4 L619.0,727.3 L620.0,727.3 L621.0,727.3 L622.0,727.3 L623.0,727.2 L624.0,726.9 L625.0,726.5 L626.0,726.2 L627.0,725.9 L628.0,725.8 L629.0,725.8 L630.0,726.0 L631.0,726.3 L632.0,726.5 L633.0,726.7 L634.0,726.8 L635.0,726.7 L636.0,726.5 L637.0,726.3 L638.0,726.0 L639.0,725.8 L640.0,725.8 L641.0,725.9 L642.0,726.2 L643.0,726.5 L644.0,726.9 L645.0,727.2 L646.0,727.3 L647.0,727.2 L648.0,727.1 L649.0,726.9 L650.0,726.7 L651.0,726.5 L652.0,726.4 L653.0,726.4 L654.0,726.3 L655.0,726.1 L656.0,726.0 L657.0,725.9 L658.0,725.9 L659.0,726.0 L660.0,726.3 L661.0,726.8 L662.0,727.2 L663.0,727.5 L664.0,727.6 L665.0,727.5 L666.0,727.3 L667.0,727.0 L668.0,726.7 L669.0,726.5 L670.0,726.4 L671.0,726.4 L672.0,726.4 L673.0,726.5 L674.0,726.5 L675.0,726.6 L676.0,726.6 L677.0,726.6 L678.0,726.8 L679.0,727.1 L680.0,727.3 L681.0,727.5 L682.0,727.6 L683.0,727.5" fill="none" stroke="#95C312" stroke-width="3.0" stroke-linejoin="round" stroke-linecap="round"/>
<rect x="151.3" y="493.7" width="12.4" height="12.4" rx="1.5" fill="#E43C0A"/>
<rect x="208.7" y="483.9" width="12.4" height="12.4" rx="1.5" fill="#E43C0A"/>
<path d="M272.4,506.2 V566.5 M266.4,506.2 H278.4 M266.4,566.5 H278.4" fill="none" stroke="#E43C0A" stroke-width="2.8"/>
<rect x="266.2" y="527.6" width="12.4" height="12.4" rx="1.5" fill="#E43C0A"/>
<path d="M329.9,603.3 V699.1 M323.9,603.3 H335.9 M323.9,699.1 H335.9" fill="none" stroke="#E43C0A" stroke-width="2.8"/>
<rect x="323.7" y="644.4" width="12.4" height="12.4" rx="1.5" fill="#E43C0A"/>
<path d="M387.4,630.8 V747.8 M381.4,630.8 H393.4 M381.4,747.8 H393.4" fill="none" stroke="#E43C0A" stroke-width="2.8"/>
<rect x="381.2" y="682.8" width="12.4" height="12.4" rx="1.5" fill="#E43C0A"/>
<path d="M444.8,613.3 V732.1 M438.8,613.3 H450.8 M438.8,732.1 H450.8" fill="none" stroke="#E43C0A" stroke-width="2.8"/>
<rect x="438.6" y="667.0" width="12.4" height="12.4" rx="1.5" fill="#E43C0A"/>
<path d="M502.3,600.4 V747.4 M496.3,600.4 H508.3 M496.3,747.4 H508.3" fill="none" stroke="#E43C0A" stroke-width="2.8"/>
<rect x="496.1" y="667.5" width="12.4" height="12.4" rx="1.5" fill="#E43C0A"/>
<path d="M559.8,627.3 V730.3 M553.8,627.3 H565.8 M553.8,730.3 H565.8" fill="none" stroke="#E43C0A" stroke-width="2.8"/>
<rect x="553.6" y="672.6" width="12.4" height="12.4" rx="1.5" fill="#E43C0A"/>
<path d="M617.2,619.2 V715.3 M611.2,619.2 H623.2 M611.2,715.3 H623.2" fill="none" stroke="#E43C0A" stroke-width="2.8"/>
<rect x="611.0" y="661.2" width="12.4" height="12.4" rx="1.5" fill="#E43C0A"/>
<path d="M674.7,637.3 V715.1 M668.7,637.3 H680.7 M668.7,715.1 H680.7" fill="none" stroke="#E43C0A" stroke-width="2.8"/>
<rect x="668.5" y="670.4" width="12.4" height="12.4" rx="1.5" fill="#E43C0A"/>
<circle cx="157.5" cy="496.3" r="7.4" fill="#615B98"/>
<path d="M214.9,575.3 V605.7 M208.9,575.3 H220.9 M208.9,605.7 H220.9" fill="none" stroke="#615B98" stroke-width="2.8"/>
<circle cx="214.9" cy="590.6" r="7.4" fill="#615B98"/>
<path d="M272.4,722.7 V770.1 M266.4,722.7 H278.4 M266.4,770.1 H278.4" fill="none" stroke="#615B98" stroke-width="2.8"/>
<circle cx="272.4" cy="745.9" r="7.4" fill="#615B98"/>
<path d="M329.9,748.5 V778.4 M323.9,748.5 H335.9 M323.9,778.4 H335.9" fill="none" stroke="#615B98" stroke-width="2.8"/>
<circle cx="329.9" cy="763.1" r="7.4" fill="#615B98"/>
<path d="M387.4,715.3 V751.3 M381.4,715.3 H393.4 M381.4,751.3 H393.4" fill="none" stroke="#615B98" stroke-width="2.8"/>
<circle cx="387.4" cy="733.3" r="7.4" fill="#615B98"/>
<path d="M444.8,716.8 V791.9 M438.8,716.8 H450.8 M438.8,791.9 H450.8" fill="none" stroke="#615B98" stroke-width="2.8"/>
<circle cx="444.8" cy="754.1" r="7.4" fill="#615B98"/>
<path d="M502.3,707.5 V752.4 M496.3,707.5 H508.3 M496.3,752.4 H508.3" fill="none" stroke="#615B98" stroke-width="2.8"/>
<circle cx="502.3" cy="729.7" r="7.4" fill="#615B98"/>
<path d="M559.8,704.3 V767.7 M553.8,704.3 H565.8 M553.8,767.7 H565.8" fill="none" stroke="#615B98" stroke-width="2.8"/>
<circle cx="559.8" cy="735.3" r="7.4" fill="#615B98"/>
<path d="M617.2,725.6 V772.3 M611.2,725.6 H623.2 M611.2,772.3 H623.2" fill="none" stroke="#615B98" stroke-width="2.8"/>
<circle cx="617.2" cy="749.0" r="7.4" fill="#615B98"/>
<path d="M674.7,727.2 V773.2 M668.7,727.2 H680.7 M668.7,773.2 H680.7" fill="none" stroke="#615B98" stroke-width="2.8"/>
<circle cx="674.7" cy="750.4" r="7.4" fill="#615B98"/>
<path d="M157.5,472.0 L164.7,481.0 L157.5,490.0 L150.3,481.0Z" fill="#95C312" stroke="#95C312" stroke-width="1" stroke-linejoin="round"/>
<path d="M214.9,477.6 L222.1,486.6 L214.9,495.6 L207.7,486.6Z" fill="#95C312" stroke="#95C312" stroke-width="1" stroke-linejoin="round"/>
<path d="M272.4,524.9 V566.5 M266.4,524.9 H278.4 M266.4,566.5 H278.4" fill="none" stroke="#95C312" stroke-width="2.8"/>
<path d="M272.4,536.3 L279.6,545.3 L272.4,554.3 L265.2,545.3Z" fill="#95C312" stroke="#95C312" stroke-width="1" stroke-linejoin="round"/>
<path d="M329.9,623.3 V705.3 M323.9,623.3 H335.9 M323.9,705.3 H335.9" fill="none" stroke="#95C312" stroke-width="2.8"/>
<path d="M329.9,656.0 L337.1,665.0 L329.9,674.0 L322.7,665.0Z" fill="#95C312" stroke="#95C312" stroke-width="1" stroke-linejoin="round"/>
<path d="M387.4,659.7 V768.3 M381.4,659.7 H393.4 M381.4,768.3 H393.4" fill="none" stroke="#95C312" stroke-width="2.8"/>
<path d="M387.4,705.0 L394.6,714.0 L387.4,723.0 L380.2,714.0Z" fill="#95C312" stroke="#95C312" stroke-width="1" stroke-linejoin="round"/>
<path d="M444.8,699.5 V741.7 M438.8,699.5 H450.8 M438.8,741.7 H450.8" fill="none" stroke="#95C312" stroke-width="2.8"/>
<path d="M444.8,711.4 L452.0,720.4 L444.8,729.4 L437.6,720.4Z" fill="#95C312" stroke="#95C312" stroke-width="1" stroke-linejoin="round"/>
<path d="M502.3,695.3 V761.6 M496.3,695.3 H508.3 M496.3,761.6 H508.3" fill="none" stroke="#95C312" stroke-width="2.8"/>
<path d="M502.3,718.7 L509.5,727.7 L502.3,736.7 L495.1,727.7Z" fill="#95C312" stroke="#95C312" stroke-width="1" stroke-linejoin="round"/>
<path d="M559.8,709.2 V773.1 M553.8,709.2 H565.8 M553.8,773.1 H565.8" fill="none" stroke="#95C312" stroke-width="2.8"/>
<path d="M559.8,732.0 L567.0,741.0 L559.8,750.0 L552.6,741.0Z" fill="#95C312" stroke="#95C312" stroke-width="1" stroke-linejoin="round"/>
<path d="M617.2,707.2 V743.4 M611.2,707.2 H623.2 M611.2,743.4 H623.2" fill="none" stroke="#95C312" stroke-width="2.8"/>
<path d="M617.2,717.2 L624.4,726.2 L617.2,735.2 L610.0,726.2Z" fill="#95C312" stroke="#95C312" stroke-width="1" stroke-linejoin="round"/>
<path d="M674.7,720.3 V760.4 M668.7,720.3 H680.7 M668.7,760.4 H680.7" fill="none" stroke="#95C312" stroke-width="2.8"/>
<path d="M674.7,730.5 L681.9,739.5 L674.7,748.5 L667.5,739.5Z" fill="#95C312" stroke="#95C312" stroke-width="1" stroke-linejoin="round"/>
</g>
<line x1="98.5" y1="472.0" x2="685.1" y2="472.0" stroke="#666666" stroke-width="2.8"/>
<line x1="99.8" y1="470.6" x2="99.8" y2="797.4" stroke="#000" stroke-width="2.8"/>
<line x1="683.8" y1="470.6" x2="683.8" y2="797.4" stroke="#000" stroke-width="2.8"/>
<line x1="98.4" y1="796.0" x2="685.2" y2="796.0" stroke="#000" stroke-width="2.8"/>
<clipPath id="cl1"><rect x="80" y="474.9" width="20.0" height="24"/></clipPath>
<clipPath id="cr1"><rect x="100.0" y="474.9" width="20" height="24"/></clipPath>
<g clip-path="url(#cl1)"><rect x="93.8" y="480.7" width="12.4" height="12.4" rx="1.5" fill="#FF0000"/></g>
<g clip-path="url(#cr1)"><rect x="93.8" y="480.7" width="12.4" height="12.4" rx="1.5" fill="#E43C0A"/></g>
<g clip-path="url(#cl1)"><circle cx="100.0" cy="486.9" r="7.4" fill="#0000FF"/></g>
<g clip-path="url(#cr1)"><circle cx="100.0" cy="486.9" r="7.4" fill="#615B98"/></g>
<g clip-path="url(#cl1)"><path d="M100.0,477.9 L107.2,486.9 L100.0,495.9 L92.8,486.9Z" fill="#00FF00" stroke="#00FF00" stroke-width="1" stroke-linejoin="round"/></g>
<g clip-path="url(#cr1)"><path d="M100.0,477.9 L107.2,486.9 L100.0,495.9 L92.8,486.9Z" fill="#95C312" stroke="#95C312" stroke-width="1" stroke-linejoin="round"/></g>
<text x="90.5" y="792.5" text-anchor="end" class="tk">0</text>
<text x="90.5" y="733.6" text-anchor="end" class="tk">0.2</text>
<text x="90.5" y="674.6" text-anchor="end" class="tk">0.4</text>
<text x="90.5" y="615.7" text-anchor="end" class="tk">0.6</text>
<text x="90.5" y="556.7" text-anchor="end" class="tk">0.8</text>
<text x="90.5" y="497.8" text-anchor="end" class="tk">1</text>
<text x="100.0" y="834.8" text-anchor="middle" class="tk">-2</text>
<text x="214.9" y="834.8" text-anchor="middle" class="tk">0</text>
<text x="329.9" y="834.8" text-anchor="middle" class="tk">2</text>
<text x="444.8" y="834.8" text-anchor="middle" class="tk">4</text>
<text x="559.8" y="834.8" text-anchor="middle" class="tk">6</text>
<text x="674.7" y="834.8" text-anchor="middle" class="tk">8</text>
<rect x="101" y="903.2" width="581.5" height="319.6" fill="#FEF0D9"/>
<clipPath id="cp2"><rect x="101" y="903.2" width="581.5" height="321.4"/></clipPath>
<line x1="214.9" y1="902.0" x2="214.9" y2="909.0" stroke="#666666" stroke-width="2.4"/>
<line x1="214.9" y1="1226.0" x2="214.9" y2="1219.0" stroke="#555" stroke-width="2.4"/>
<line x1="329.9" y1="902.0" x2="329.9" y2="909.0" stroke="#666666" stroke-width="2.4"/>
<line x1="329.9" y1="1226.0" x2="329.9" y2="1219.0" stroke="#555" stroke-width="2.4"/>
<line x1="444.8" y1="902.0" x2="444.8" y2="909.0" stroke="#666666" stroke-width="2.4"/>
<line x1="444.8" y1="1226.0" x2="444.8" y2="1219.0" stroke="#555" stroke-width="2.4"/>
<line x1="559.8" y1="902.0" x2="559.8" y2="909.0" stroke="#666666" stroke-width="2.4"/>
<line x1="559.8" y1="1226.0" x2="559.8" y2="1219.0" stroke="#555" stroke-width="2.4"/>
<line x1="674.7" y1="902.0" x2="674.7" y2="909.0" stroke="#666666" stroke-width="2.4"/>
<line x1="674.7" y1="1226.0" x2="674.7" y2="1219.0" stroke="#555" stroke-width="2.4"/>
<line x1="99.8" y1="1211.6" x2="107.3" y2="1211.6" stroke="#666666" stroke-width="2.4"/>
<line x1="683.8" y1="1211.6" x2="676.3" y2="1211.6" stroke="#666666" stroke-width="2.4"/>
<line x1="99.8" y1="1152.7" x2="107.3" y2="1152.7" stroke="#666666" stroke-width="2.4"/>
<line x1="683.8" y1="1152.7" x2="676.3" y2="1152.7" stroke="#666666" stroke-width="2.4"/>
<line x1="99.8" y1="1093.7" x2="107.3" y2="1093.7" stroke="#666666" stroke-width="2.4"/>
<line x1="683.8" y1="1093.7" x2="676.3" y2="1093.7" stroke="#666666" stroke-width="2.4"/>
<line x1="99.8" y1="1034.8" x2="107.3" y2="1034.8" stroke="#666666" stroke-width="2.4"/>
<line x1="683.8" y1="1034.8" x2="676.3" y2="1034.8" stroke="#666666" stroke-width="2.4"/>
<line x1="99.8" y1="975.8" x2="107.3" y2="975.8" stroke="#666666" stroke-width="2.4"/>
<line x1="683.8" y1="975.8" x2="676.3" y2="975.8" stroke="#666666" stroke-width="2.4"/>
<line x1="99.8" y1="916.9" x2="107.3" y2="916.9" stroke="#666666" stroke-width="2.4"/>
<line x1="683.8" y1="916.9" x2="676.3" y2="916.9" stroke="#666666" stroke-width="2.4"/>
<g clip-path="url(#cp2)">
<path d="M100.0,916.8 L101.0,916.8 L102.0,916.8 L103.0,916.8 L104.0,916.8 L105.0,916.7 L106.0,916.7 L107.0,916.7 L108.0,916.7 L109.0,916.7 L110.0,916.7 L111.0,916.7 L112.0,916.6 L113.0,916.6 L114.0,916.6 L115.0,916.6 L116.0,916.6 L117.0,916.6 L118.0,916.6 L119.0,916.6 L120.0,916.6 L121.0,916.6 L122.0,916.6 L123.0,916.6 L124.0,916.6 L125.0,916.6 L126.0,916.6 L127.0,916.6 L128.0,916.6 L129.0,916.6 L130.0,916.6 L131.0,916.6 L132.0,916.6 L133.0,916.7 L134.0,916.7 L135.0,916.7 L136.0,916.7 L137.0,916.7 L138.0,916.8 L139.0,916.8 L140.0,916.8 L141.0,916.8 L142.0,916.9 L143.0,916.9 L144.0,916.9 L145.0,916.9 L146.0,917.0 L147.0,917.0 L148.0,917.0 L149.0,917.1 L150.0,917.1 L151.0,917.1 L152.0,917.2 L153.0,917.2 L154.0,917.2 L155.0,917.3 L156.0,917.3 L157.0,917.3 L158.0,917.4 L159.0,917.4 L160.0,917.5 L161.0,917.5 L162.0,917.5 L163.0,917.6 L164.0,917.6 L165.0,917.6 L166.0,917.7 L167.0,917.7 L168.0,917.8 L169.0,917.8 L170.0,917.8 L171.0,917.9 L172.0,917.9 L173.0,917.9 L174.0,918.0 L175.0,918.0 L176.0,918.1 L177.0,918.1 L178.0,918.2 L179.0,918.2 L180.0,918.2 L181.0,918.3 L182.0,918.3 L183.0,918.4 L184.0,918.4 L185.0,918.4 L186.0,918.5 L187.0,918.5 L188.0,918.6 L189.0,918.6 L190.0,918.7 L191.0,918.7 L192.0,918.7 L193.0,918.8 L194.0,918.8 L195.0,918.9 L196.0,918.9 L197.0,919.0 L198.0,919.0 L199.0,919.1 L200.0,919.1 L201.0,919.2 L202.0,919.2 L203.0,919.3 L204.0,919.3 L205.0,919.4 L206.0,919.4 L207.0,919.5 L208.0,919.5 L209.0,919.6 L210.0,919.6 L211.0,919.7 L212.0,919.7 L213.0,919.8 L214.0,919.9 L215.0,919.9 L216.0,920.0 L217.0,920.1 L218.0,920.1 L219.0,920.2 L220.0,920.3 L221.0,920.4 L222.0,920.5 L223.0,920.6 L224.0,920.7 L225.0,920.9 L226.0,921.0 L227.0,921.2 L228.0,921.5 L229.0,921.7 L230.0,921.9 L231.0,922.2 L232.0,922.4 L233.0,922.7 L234.0,922.9 L235.0,923.1 L236.0,923.4 L237.0,923.6 L238.0,923.9 L239.0,924.1 L240.0,924.4 L241.0,924.7 L242.0,924.9 L243.0,925.2 L244.0,925.5 L245.0,925.7 L246.0,926.0 L247.0,926.2 L248.0,926.5 L249.0,926.7 L250.0,926.9 L251.0,927.2 L252.0,927.4 L253.0,927.6 L254.0,927.7 L255.0,927.9 L256.0,928.1 L257.0,928.3 L258.0,928.5 L259.0,928.6 L260.0,928.8 L261.0,929.0 L262.0,929.2 L263.0,929.4 L264.0,929.6 L265.0,929.9 L266.0,930.1 L267.0,930.4 L268.0,930.7 L269.0,931.0 L270.0,931.4 L271.0,931.7 L272.0,932.1 L273.0,932.5 L274.0,932.9 L275.0,933.3 L276.0,933.7 L277.0,934.2 L278.0,934.6 L279.0,935.0 L280.0,935.4 L281.0,935.9 L282.0,936.3 L283.0,936.7 L284.0,937.1 L285.0,937.5 L286.0,937.8 L287.0,938.2 L288.0,938.6 L289.0,939.0 L290.0,939.4 L291.0,939.8 L292.0,940.1 L293.0,940.4 L294.0,940.7 L295.0,941.0 L296.0,941.3 L297.0,941.5 L298.0,941.6 L299.0,941.8 L300.0,941.9 L301.0,942.0 L302.0,942.1 L303.0,942.1 L304.0,942.2 L305.0,942.2 L306.0,942.2 L307.0,942.2 L308.0,942.2 L309.0,942.2 L310.0,942.2 L311.0,942.2 L312.0,942.2 L313.0,942.2 L314.0,942.1 L315.0,942.1 L316.0,942.1 L317.0,942.1 L318.0,942.1 L319.0,942.1 L320.0,942.1 L321.0,942.1 L322.0,942.1 L323.0,942.1 L324.0,942.1 L325.0,942.2 L326.0,942.3 L327.0,942.4 L328.0,942.5 L329.0,942.6 L330.0,942.7 L331.0,942.9 L332.0,943.1 L333.0,943.4 L334.0,943.6 L335.0,943.9 L336.0,944.2 L337.0,944.5 L338.0,944.8 L339.0,945.1 L340.0,945.5 L341.0,945.8 L342.0,946.2 L343.0,946.6 L344.0,946.9 L345.0,947.3 L346.0,947.7 L347.0,948.0 L348.0,948.3 L349.0,948.6 L350.0,948.9 L351.0,949.2 L352.0,949.4 L353.0,949.7 L354.0,949.9 L355.0,950.1 L356.0,950.3 L357.0,950.5 L358.0,950.7 L359.0,950.9 L360.0,951.1 L361.0,951.3 L362.0,951.5 L363.0,951.7 L364.0,952.0 L365.0,952.3 L366.0,952.5 L367.0,952.8 L368.0,953.2 L369.0,953.5 L370.0,953.8 L371.0,954.2 L372.0,954.5 L373.0,954.9 L374.0,955.3 L375.0,955.7 L376.0,956.1 L377.0,956.4 L378.0,956.8 L379.0,957.2 L380.0,957.6 L381.0,958.0 L382.0,958.3 L383.0,958.7 L384.0,959.1 L385.0,959.4 L386.0,959.8 L387.0,960.1 L388.0,960.4 L389.0,960.7 L390.0,961.0 L391.0,961.2 L392.0,961.5 L393.0,961.7 L394.0,961.9 L395.0,962.0 L396.0,962.2 L397.0,962.3 L398.0,962.5 L399.0,962.6 L400.0,962.7 L401.0,962.8 L402.0,962.9 L403.0,963.0 L404.0,963.1 L405.0,963.1 L406.0,963.2 L407.0,963.3 L408.0,963.4 L409.0,963.5 L410.0,963.6 L411.0,963.7 L412.0,963.8 L413.0,963.9 L414.0,963.9 L415.0,963.8 L416.0,963.8 L417.0,963.7 L418.0,963.7 L419.0,963.8 L420.0,964.0 L421.0,964.2 L422.0,964.4 L423.0,964.7 L424.0,964.8 L425.0,964.9 L426.0,964.9 L427.0,965.0 L428.0,965.0 L429.0,965.1 L430.0,965.1 L431.0,965.2 L432.0,965.3 L433.0,965.4 L434.0,965.5 L435.0,965.6 L436.0,965.7 L437.0,965.6 L438.0,965.4 L439.0,965.2 L440.0,964.9 L441.0,964.7 L442.0,964.7 L443.0,964.6 L444.0,964.5 L445.0,964.3 L446.0,964.1 L447.0,964.0 L448.0,963.8 L449.0,963.8 L450.0,963.8 L451.0,963.8 L452.0,963.8 L453.0,963.8 L454.0,963.7 L455.0,963.6 L456.0,963.7 L457.0,963.8 L458.0,964.0 L459.0,964.0 L460.0,964.0 L461.0,963.8 L462.0,963.3 L463.0,962.8 L464.0,962.2 L465.0,961.8 L466.0,961.6 L467.0,961.7 L468.0,962.0 L469.0,962.5 L470.0,963.0 L471.0,963.3 L472.0,963.4 L473.0,963.4 L474.0,963.2 L475.0,963.1 L476.0,963.0 L477.0,962.9 L478.0,962.8 L479.0,962.8 L480.0,962.8 L481.0,962.8 L482.0,962.8 L483.0,962.8 L484.0,962.7 L485.0,962.6 L486.0,962.2 L487.0,961.8 L488.0,961.3 L489.0,961.0 L490.0,960.8 L491.0,960.9 L492.0,961.2 L493.0,961.5 L494.0,961.8 L495.0,962.0 L496.0,962.1 L497.0,962.0 L498.0,961.6 L499.0,961.2 L500.0,960.8 L501.0,960.5 L502.0,960.4 L503.0,960.4 L504.0,960.4 L505.0,960.4 L506.0,960.5 L507.0,960.5 L508.0,960.5 L509.0,960.5 L510.0,960.4 L511.0,960.4 L512.0,960.4 L513.0,960.3 L514.0,960.3 L515.0,960.4 L516.0,960.7 L517.0,961.1 L518.0,961.6 L519.0,961.9 L520.0,962.0 L521.0,962.0 L522.0,961.9 L523.0,961.8 L524.0,961.6 L525.0,961.5 L526.0,961.5 L527.0,961.4 L528.0,961.3 L529.0,961.1 L530.0,961.0 L531.0,960.8 L532.0,960.8 L533.0,960.8 L534.0,960.8 L535.0,960.8 L536.0,960.8 L537.0,960.8 L538.0,960.8 L539.0,960.8 L540.0,960.9 L541.0,961.0 L542.0,961.1 L543.0,961.2 L544.0,961.2 L545.0,961.3 L546.0,961.4 L547.0,961.5 L548.0,961.7 L549.0,961.8 L550.0,961.8 L551.0,961.8 L552.0,961.7 L553.0,961.5 L554.0,961.2 L555.0,961.1 L556.0,961.0 L557.0,961.1 L558.0,961.1 L559.0,961.1 L560.0,961.2 L561.0,961.2 L562.0,961.2 L563.0,961.3 L564.0,961.6 L565.0,962.0 L566.0,962.3 L567.0,962.6 L568.0,962.7 L569.0,962.6 L570.0,962.2 L571.0,961.8 L572.0,961.3 L573.0,961.0 L574.0,960.9 L575.0,960.8 L576.0,960.7 L577.0,960.6 L578.0,960.4 L579.0,960.3 L580.0,960.3 L581.0,960.4 L582.0,960.8 L583.0,961.4 L584.0,961.9 L585.0,962.3 L586.0,962.5 L587.0,962.5 L588.0,962.5 L589.0,962.6 L590.0,962.6 L591.0,962.7 L592.0,962.7 L593.0,962.6 L594.0,962.3 L595.0,962.0 L596.0,961.7 L597.0,961.4 L598.0,961.3 L599.0,961.4 L600.0,961.5 L601.0,961.7 L602.0,961.8 L603.0,962.0 L604.0,962.0 L605.0,961.9 L606.0,961.6 L607.0,961.2 L608.0,960.9 L609.0,960.6 L610.0,960.5 L611.0,960.5 L612.0,960.4 L613.0,960.4 L614.0,960.4 L615.0,960.4 L616.0,960.4 L617.0,960.4 L618.0,960.4 L619.0,960.3 L620.0,960.3 L621.0,960.3 L622.0,960.3 L623.0,960.3 L624.0,960.4 L625.0,960.4 L626.0,960.4 L627.0,960.4 L628.0,960.4 L629.0,960.5 L630.0,960.7 L631.0,960.9 L632.0,961.1 L633.0,961.3 L634.0,961.4 L635.0,961.3 L636.0,961.1 L637.0,960.8 L638.0,960.5 L639.0,960.3 L640.0,960.2 L641.0,960.3 L642.0,960.6 L643.0,961.0 L644.0,961.4 L645.0,961.7 L646.0,961.8 L647.0,961.7 L648.0,961.6 L649.0,961.5 L650.0,961.3 L651.0,961.2 L652.0,961.1 L653.0,961.0 L654.0,960.9 L655.0,960.7 L656.0,960.5 L657.0,960.4 L658.0,960.3 L659.0,960.4 L660.0,960.6 L661.0,960.9 L662.0,961.2 L663.0,961.4 L664.0,961.5 L665.0,961.4 L666.0,961.2 L667.0,961.0 L668.0,960.8 L669.0,960.6 L670.0,960.5 L671.0,960.5 L672.0,960.6 L673.0,960.7 L674.0,960.8 L675.0,960.9 L676.0,960.9 L677.0,960.7 L678.0,960.3 L679.0,959.9 L680.0,959.4 L681.0,959.0 L682.0,958.8 L683.0,958.9" fill="none" stroke="#E43C0A" stroke-width="3.0" stroke-linejoin="round" stroke-linecap="round"/>
<path d="M100.0,916.9 L101.0,916.9 L102.0,917.0 L103.0,917.0 L104.0,917.1 L105.0,917.1 L106.0,917.2 L107.0,917.3 L108.0,917.3 L109.0,917.4 L110.0,917.5 L111.0,917.5 L112.0,917.6 L113.0,917.7 L114.0,917.7 L115.0,917.8 L116.0,917.9 L117.0,917.9 L118.0,918.0 L119.0,918.1 L120.0,918.1 L121.0,918.2 L122.0,918.3 L123.0,918.4 L124.0,918.4 L125.0,918.5 L126.0,918.6 L127.0,918.7 L128.0,918.8 L129.0,918.8 L130.0,918.9 L131.0,919.0 L132.0,919.1 L133.0,919.2 L134.0,919.3 L135.0,919.4 L136.0,919.5 L137.0,919.6 L138.0,919.7 L139.0,919.8 L140.0,919.9 L141.0,920.0 L142.0,920.1 L143.0,920.3 L144.0,920.4 L145.0,920.5 L146.0,920.6 L147.0,920.8 L148.0,920.9 L149.0,921.0 L150.0,921.2 L151.0,921.3 L152.0,921.4 L153.0,921.6 L154.0,921.7 L155.0,921.8 L156.0,922.0 L157.0,922.1 L158.0,922.3 L159.0,922.4 L160.0,922.6 L161.0,922.7 L162.0,922.9 L163.0,923.0 L164.0,923.2 L165.0,923.3 L166.0,923.5 L167.0,923.6 L168.0,923.8 L169.0,924.0 L170.0,924.2 L171.0,924.3 L172.0,924.5 L173.0,924.7 L174.0,924.9 L175.0,925.1 L176.0,925.3 L177.0,925.5 L178.0,925.7 L179.0,925.9 L180.0,926.1 L181.0,926.4 L182.0,926.6 L183.0,926.9 L184.0,927.1 L185.0,927.4 L186.0,927.7 L187.0,928.1 L188.0,928.4 L189.0,928.8 L190.0,929.2 L191.0,929.7 L192.0,930.1 L193.0,930.6 L194.0,931.2 L195.0,931.7 L196.0,932.3 L197.0,932.9 L198.0,933.5 L199.0,934.1 L200.0,934.7 L201.0,935.4 L202.0,936.1 L203.0,936.8 L204.0,937.5 L205.0,938.3 L206.0,939.0 L207.0,939.8 L208.0,940.6 L209.0,941.4 L210.0,942.2 L211.0,943.0 L212.0,943.8 L213.0,944.7 L214.0,945.5 L215.0,946.3 L216.0,947.2 L217.0,948.1 L218.0,949.0 L219.0,950.0 L220.0,950.9 L221.0,952.0 L222.0,953.1 L223.0,954.2 L224.0,955.4 L225.0,956.7 L226.0,957.9 L227.0,959.3 L228.0,960.6 L229.0,962.1 L230.0,963.5 L231.0,965.0 L232.0,966.4 L233.0,967.9 L234.0,969.4 L235.0,971.0 L236.0,972.5 L237.0,974.1 L238.0,975.7 L239.0,977.4 L240.0,979.2 L241.0,981.0 L242.0,982.9 L243.0,984.9 L244.0,986.9 L245.0,989.0 L246.0,991.2 L247.0,993.4 L248.0,995.8 L249.0,998.2 L250.0,1000.6 L251.0,1003.2 L252.0,1005.8 L253.0,1008.5 L254.0,1011.3 L255.0,1014.1 L256.0,1017.0 L257.0,1019.9 L258.0,1022.8 L259.0,1025.7 L260.0,1028.6 L261.0,1031.6 L262.0,1034.5 L263.0,1037.5 L264.0,1040.5 L265.0,1043.5 L266.0,1046.6 L267.0,1049.7 L268.0,1052.8 L269.0,1056.0 L270.0,1059.2 L271.0,1062.4 L272.0,1065.7 L273.0,1068.9 L274.0,1072.1 L275.0,1075.3 L276.0,1078.3 L277.0,1081.3 L278.0,1084.2 L279.0,1087.0 L280.0,1089.6 L281.0,1092.0 L282.0,1094.2 L283.0,1096.2 L284.0,1097.9 L285.0,1099.5 L286.0,1100.8 L287.0,1101.9 L288.0,1102.8 L289.0,1103.6 L290.0,1104.1 L291.0,1104.6 L292.0,1104.8 L293.0,1104.9 L294.0,1104.9 L295.0,1104.7 L296.0,1104.5 L297.0,1104.2 L298.0,1103.8 L299.0,1103.5 L300.0,1103.1 L301.0,1102.8 L302.0,1102.4 L303.0,1102.1 L304.0,1101.8 L305.0,1101.5 L306.0,1101.3 L307.0,1101.1 L308.0,1101.0 L309.0,1100.9 L310.0,1100.9 L311.0,1100.9 L312.0,1100.9 L313.0,1100.8 L314.0,1100.7 L315.0,1100.7 L316.0,1100.8 L317.0,1100.9 L318.0,1101.1 L319.0,1101.2 L320.0,1101.3 L321.0,1101.4 L322.0,1101.5 L323.0,1101.6 L324.0,1101.8 L325.0,1101.9 L326.0,1102.1 L327.0,1102.2 L328.0,1102.2 L329.0,1102.2 L330.0,1102.1 L331.0,1102.1 L332.0,1102.1 L333.0,1102.0 L334.0,1101.9 L335.0,1101.7 L336.0,1101.5 L337.0,1101.2 L338.0,1100.9 L339.0,1100.6 L340.0,1100.4 L341.0,1100.2 L342.0,1100.0 L343.0,1099.7 L344.0,1099.5 L345.0,1099.2 L346.0,1099.0 L347.0,1098.9 L348.0,1098.9 L349.0,1099.0 L350.0,1099.1 L351.0,1099.1 L352.0,1099.0 L353.0,1098.9 L354.0,1098.8 L355.0,1098.9 L356.0,1098.9 L357.0,1098.9 L358.0,1098.8 L359.0,1098.6 L360.0,1098.3 L361.0,1098.1 L362.0,1097.8 L363.0,1097.6 L364.0,1097.3 L365.0,1097.1 L366.0,1096.7 L367.0,1096.3 L368.0,1095.9 L369.0,1095.5 L370.0,1095.2 L371.0,1095.1 L372.0,1095.1 L373.0,1095.1 L374.0,1095.2 L375.0,1095.2 L376.0,1095.1 L377.0,1094.8 L378.0,1094.5 L379.0,1094.2 L380.0,1093.9 L381.0,1093.6 L382.0,1093.4 L383.0,1093.3 L384.0,1093.2 L385.0,1093.2 L386.0,1093.1 L387.0,1093.0 L388.0,1093.0 L389.0,1092.8 L390.0,1092.5 L391.0,1092.2 L392.0,1091.8 L393.0,1091.5 L394.0,1091.4 L395.0,1091.4 L396.0,1091.5 L397.0,1091.6 L398.0,1091.7 L399.0,1091.8 L400.0,1091.8 L401.0,1091.8 L402.0,1091.8 L403.0,1091.8 L404.0,1091.8 L405.0,1091.7 L406.0,1091.7 L407.0,1091.6 L408.0,1091.4 L409.0,1091.2 L410.0,1090.9 L411.0,1090.7 L412.0,1090.6 L413.0,1090.7 L414.0,1090.7 L415.0,1090.9 L416.0,1091.0 L417.0,1091.1 L418.0,1091.1 L419.0,1091.1 L420.0,1091.2 L421.0,1091.3 L422.0,1091.4 L423.0,1091.4 L424.0,1091.4 L425.0,1091.3 L426.0,1091.0 L427.0,1090.6 L428.0,1090.3 L429.0,1090.0 L430.0,1089.8 L431.0,1089.8 L432.0,1089.8 L433.0,1089.9 L434.0,1090.0 L435.0,1090.0 L436.0,1090.0 L437.0,1090.1 L438.0,1090.2 L439.0,1090.5 L440.0,1090.8 L441.0,1091.0 L442.0,1091.0 L443.0,1090.9 L444.0,1090.6 L445.0,1090.3 L446.0,1090.0 L447.0,1089.8 L448.0,1089.6 L449.0,1089.6 L450.0,1089.6 L451.0,1089.7 L452.0,1089.8 L453.0,1089.8 L454.0,1089.7 L455.0,1089.5 L456.0,1089.1 L457.0,1088.7 L458.0,1088.3 L459.0,1087.9 L460.0,1087.7 L461.0,1087.5 L462.0,1087.4 L463.0,1087.4 L464.0,1087.3 L465.0,1087.2 L466.0,1087.2 L467.0,1087.2 L468.0,1087.4 L469.0,1087.7 L470.0,1088.1 L471.0,1088.3 L472.0,1088.4 L473.0,1088.4 L474.0,1088.3 L475.0,1088.3 L476.0,1088.3 L477.0,1088.3 L478.0,1088.3 L479.0,1088.2 L480.0,1087.9 L481.0,1087.5 L482.0,1087.1 L483.0,1086.8 L484.0,1086.7 L485.0,1086.8 L486.0,1087.1 L487.0,1087.4 L488.0,1087.8 L489.0,1088.0 L490.0,1088.2 L491.0,1088.2 L492.0,1088.3 L493.0,1088.5 L494.0,1088.6 L495.0,1088.7 L496.0,1088.8 L497.0,1088.8 L498.0,1088.8 L499.0,1088.9 L500.0,1088.9 L501.0,1088.9 L502.0,1089.0 L503.0,1089.0 L504.0,1089.0 L505.0,1089.1 L506.0,1089.1 L507.0,1089.1 L508.0,1089.2 L509.0,1089.2 L510.0,1089.3 L511.0,1089.3 L512.0,1089.4 L513.0,1089.4 L514.0,1089.5 L515.0,1089.4 L516.0,1089.3 L517.0,1089.0 L518.0,1088.8 L519.0,1088.6 L520.0,1088.6 L521.0,1088.7 L522.0,1088.8 L523.0,1089.0 L524.0,1089.2 L525.0,1089.3 L526.0,1089.4 L527.0,1089.4 L528.0,1089.2 L529.0,1089.0 L530.0,1088.9 L531.0,1088.7 L532.0,1088.7 L533.0,1088.8 L534.0,1089.0 L535.0,1089.2 L536.0,1089.4 L537.0,1089.6 L538.0,1089.7 L539.0,1089.7 L540.0,1089.9 L541.0,1090.0 L542.0,1090.2 L543.0,1090.3 L544.0,1090.4 L545.0,1090.4 L546.0,1090.5 L547.0,1090.6 L548.0,1090.7 L549.0,1090.8 L550.0,1090.8 L551.0,1090.8 L552.0,1090.8 L553.0,1090.7 L554.0,1090.6 L555.0,1090.6 L556.0,1090.6 L557.0,1090.6 L558.0,1090.6 L559.0,1090.5 L560.0,1090.5 L561.0,1090.5 L562.0,1090.5 L563.0,1090.4 L564.0,1090.1 L565.0,1089.7 L566.0,1089.4 L567.0,1089.1 L568.0,1089.0 L569.0,1089.1 L570.0,1089.5 L571.0,1090.0 L572.0,1090.5 L573.0,1090.8 L574.0,1091.0 L575.0,1090.9 L576.0,1090.6 L577.0,1090.3 L578.0,1089.9 L579.0,1089.7 L580.0,1089.5 L581.0,1089.6 L582.0,1089.8 L583.0,1090.1 L584.0,1090.4 L585.0,1090.6 L586.0,1090.7 L587.0,1090.5 L588.0,1090.1 L589.0,1089.6 L590.0,1089.1 L591.0,1088.7 L592.0,1088.5 L593.0,1088.6 L594.0,1088.8 L595.0,1089.1 L596.0,1089.4 L597.0,1089.7 L598.0,1089.7 L599.0,1089.7 L600.0,1089.6 L601.0,1089.5 L602.0,1089.4 L603.0,1089.4 L604.0,1089.3 L605.0,1089.4 L606.0,1089.6 L607.0,1089.9 L608.0,1090.2 L609.0,1090.4 L610.0,1090.4 L611.0,1090.4 L612.0,1090.3 L613.0,1090.1 L614.0,1090.0 L615.0,1089.8 L616.0,1089.8 L617.0,1089.7 L618.0,1089.6 L619.0,1089.4 L620.0,1089.2 L621.0,1089.1 L622.0,1089.0 L623.0,1089.0 L624.0,1089.1 L625.0,1089.2 L626.0,1089.4 L627.0,1089.5 L628.0,1089.5 L629.0,1089.4 L630.0,1089.3 L631.0,1089.1 L632.0,1088.9 L633.0,1088.8 L634.0,1088.7 L635.0,1088.8 L636.0,1089.0 L637.0,1089.3 L638.0,1089.6 L639.0,1089.8 L640.0,1089.9 L641.0,1089.7 L642.0,1089.3 L643.0,1088.8 L644.0,1088.3 L645.0,1087.9 L646.0,1087.7 L647.0,1087.8 L648.0,1088.2 L649.0,1088.6 L650.0,1089.1 L651.0,1089.4 L652.0,1089.5 L653.0,1089.5 L654.0,1089.5 L655.0,1089.4 L656.0,1089.4 L657.0,1089.3 L658.0,1089.3 L659.0,1089.1 L660.0,1088.8 L661.0,1088.4 L662.0,1087.9 L663.0,1087.6 L664.0,1087.4 L665.0,1087.4 L666.0,1087.5 L667.0,1087.7 L668.0,1087.9 L669.0,1088.0 L670.0,1087.9 L671.0,1087.8 L672.0,1087.7 L673.0,1087.6 L674.0,1087.4 L675.0,1087.3 L676.0,1087.0 L677.0,1086.7 L678.0,1086.4 L679.0,1086.0 L680.0,1085.7 L681.0,1085.3 L682.0,1085.1 L683.0,1084.9" fill="none" stroke="#615B98" stroke-width="3.0" stroke-linejoin="round" stroke-linecap="round"/>
<path d="M100.0,916.8 L101.0,916.8 L102.0,916.8 L103.0,916.8 L104.0,916.8 L105.0,916.8 L106.0,916.8 L107.0,916.8 L108.0,916.8 L109.0,916.8 L110.0,916.8 L111.0,916.9 L112.0,916.9 L113.0,916.9 L114.0,916.9 L115.0,916.9 L116.0,916.9 L117.0,916.9 L118.0,916.9 L119.0,916.9 L120.0,916.9 L121.0,916.9 L122.0,916.9 L123.0,916.9 L124.0,917.0 L125.0,917.0 L126.0,917.0 L127.0,917.0 L128.0,917.0 L129.0,917.1 L130.0,917.1 L131.0,917.1 L132.0,917.2 L133.0,917.2 L134.0,917.2 L135.0,917.3 L136.0,917.3 L137.0,917.4 L138.0,917.4 L139.0,917.5 L140.0,917.5 L141.0,917.6 L142.0,917.6 L143.0,917.7 L144.0,917.8 L145.0,917.9 L146.0,917.9 L147.0,918.0 L148.0,918.1 L149.0,918.2 L150.0,918.3 L151.0,918.4 L152.0,918.5 L153.0,918.6 L154.0,918.7 L155.0,918.8 L156.0,918.9 L157.0,919.0 L158.0,919.1 L159.0,919.2 L160.0,919.3 L161.0,919.4 L162.0,919.5 L163.0,919.6 L164.0,919.7 L165.0,919.9 L166.0,920.0 L167.0,920.1 L168.0,920.2 L169.0,920.3 L170.0,920.5 L171.0,920.6 L172.0,920.7 L173.0,920.9 L174.0,921.0 L175.0,921.1 L176.0,921.3 L177.0,921.4 L178.0,921.5 L179.0,921.7 L180.0,921.8 L181.0,922.0 L182.0,922.1 L183.0,922.2 L184.0,922.4 L185.0,922.5 L186.0,922.7 L187.0,922.9 L188.0,923.0 L189.0,923.2 L190.0,923.3 L191.0,923.5 L192.0,923.7 L193.0,923.8 L194.0,924.0 L195.0,924.2 L196.0,924.4 L197.0,924.5 L198.0,924.7 L199.0,924.9 L200.0,925.1 L201.0,925.2 L202.0,925.4 L203.0,925.6 L204.0,925.8 L205.0,926.0 L206.0,926.2 L207.0,926.4 L208.0,926.5 L209.0,926.7 L210.0,926.9 L211.0,927.1 L212.0,927.3 L213.0,927.5 L214.0,927.7 L215.0,927.9 L216.0,928.1 L217.0,928.3 L218.0,928.5 L219.0,928.8 L220.0,929.1 L221.0,929.4 L222.0,929.8 L223.0,930.3 L224.0,930.8 L225.0,931.4 L226.0,932.1 L227.0,932.8 L228.0,933.6 L229.0,934.4 L230.0,935.2 L231.0,936.1 L232.0,937.0 L233.0,937.9 L234.0,938.9 L235.0,939.8 L236.0,940.8 L237.0,941.8 L238.0,942.8 L239.0,943.9 L240.0,945.0 L241.0,946.1 L242.0,947.2 L243.0,948.3 L244.0,949.5 L245.0,950.6 L246.0,951.8 L247.0,953.0 L248.0,954.2 L249.0,955.5 L250.0,956.7 L251.0,957.9 L252.0,959.1 L253.0,960.3 L254.0,961.5 L255.0,962.7 L256.0,963.9 L257.0,965.1 L258.0,966.3 L259.0,967.5 L260.0,968.7 L261.0,969.9 L262.0,971.2 L263.0,972.4 L264.0,973.6 L265.0,974.8 L266.0,976.0 L267.0,977.2 L268.0,978.5 L269.0,979.8 L270.0,981.1 L271.0,982.5 L272.0,983.9 L273.0,985.4 L274.0,987.1 L275.0,988.8 L276.0,990.7 L277.0,992.7 L278.0,994.8 L279.0,997.0 L280.0,999.4 L281.0,1001.9 L282.0,1004.4 L283.0,1007.0 L284.0,1009.7 L285.0,1012.3 L286.0,1014.9 L287.0,1017.4 L288.0,1019.9 L289.0,1022.3 L290.0,1024.6 L291.0,1026.9 L292.0,1029.2 L293.0,1031.3 L294.0,1033.4 L295.0,1035.4 L296.0,1037.4 L297.0,1039.2 L298.0,1040.9 L299.0,1042.4 L300.0,1043.7 L301.0,1044.9 L302.0,1045.9 L303.0,1046.8 L304.0,1047.4 L305.0,1047.9 L306.0,1048.3 L307.0,1048.5 L308.0,1048.7 L309.0,1048.8 L310.0,1048.8 L311.0,1048.7 L312.0,1048.6 L313.0,1048.5 L314.0,1048.3 L315.0,1048.0 L316.0,1047.7 L317.0,1047.4 L318.0,1047.1 L319.0,1046.8 L320.0,1046.5 L321.0,1046.3 L322.0,1046.0 L323.0,1045.9 L324.0,1045.8 L325.0,1045.7 L326.0,1045.8 L327.0,1046.0 L328.0,1046.3 L329.0,1046.8 L330.0,1047.5 L331.0,1048.2 L332.0,1049.1 L333.0,1050.2 L334.0,1051.3 L335.0,1052.6 L336.0,1053.9 L337.0,1055.4 L338.0,1057.0 L339.0,1058.7 L340.0,1060.6 L341.0,1062.6 L342.0,1064.8 L343.0,1067.1 L344.0,1069.5 L345.0,1071.9 L346.0,1074.4 L347.0,1076.7 L348.0,1078.9 L349.0,1080.8 L350.0,1082.6 L351.0,1084.0 L352.0,1085.1 L353.0,1085.9 L354.0,1086.4 L355.0,1086.7 L356.0,1086.7 L357.0,1086.5 L358.0,1086.3 L359.0,1085.9 L360.0,1085.4 L361.0,1084.9 L362.0,1084.5 L363.0,1084.1 L364.0,1083.8 L365.0,1083.5 L366.0,1083.4 L367.0,1083.4 L368.0,1083.6 L369.0,1083.8 L370.0,1084.1 L371.0,1084.5 L372.0,1084.9 L373.0,1085.3 L374.0,1085.7 L375.0,1086.0 L376.0,1086.3 L377.0,1086.6 L378.0,1086.8 L379.0,1087.0 L380.0,1087.2 L381.0,1087.3 L382.0,1087.3 L383.0,1087.4 L384.0,1087.5 L385.0,1087.6 L386.0,1087.8 L387.0,1087.9 L388.0,1088.0 L389.0,1088.1 L390.0,1088.0 L391.0,1087.9 L392.0,1087.8 L393.0,1087.6 L394.0,1087.5 L395.0,1087.5 L396.0,1087.6 L397.0,1087.8 L398.0,1088.0 L399.0,1088.1 L400.0,1088.1 L401.0,1088.1 L402.0,1088.1 L403.0,1088.0 L404.0,1088.0 L405.0,1088.0 L406.0,1087.9 L407.0,1087.8 L408.0,1087.6 L409.0,1087.3 L410.0,1087.1 L411.0,1086.8 L412.0,1086.6 L413.0,1086.4 L414.0,1086.0 L415.0,1085.6 L416.0,1085.1 L417.0,1084.8 L418.0,1084.5 L419.0,1084.4 L420.0,1084.4 L421.0,1084.3 L422.0,1084.3 L423.0,1084.2 L424.0,1084.1 L425.0,1084.0 L426.0,1083.9 L427.0,1083.7 L428.0,1083.6 L429.0,1083.5 L430.0,1083.4 L431.0,1083.2 L432.0,1082.9 L433.0,1082.6 L434.0,1082.2 L435.0,1081.9 L436.0,1081.8 L437.0,1081.7 L438.0,1081.8 L439.0,1081.9 L440.0,1082.0 L441.0,1082.1 L442.0,1082.0 L443.0,1081.9 L444.0,1081.9 L445.0,1081.8 L446.0,1081.8 L447.0,1081.8 L448.0,1081.7 L449.0,1081.5 L450.0,1081.3 L451.0,1081.1 L452.0,1080.8 L453.0,1080.6 L454.0,1080.5 L455.0,1080.4 L456.0,1080.2 L457.0,1080.0 L458.0,1079.9 L459.0,1079.7 L460.0,1079.6 L461.0,1079.5 L462.0,1079.4 L463.0,1079.2 L464.0,1079.1 L465.0,1079.0 L466.0,1078.9 L467.0,1078.9 L468.0,1079.1 L469.0,1079.4 L470.0,1079.7 L471.0,1079.9 L472.0,1079.9 L473.0,1079.7 L474.0,1079.4 L475.0,1078.9 L476.0,1078.5 L477.0,1078.1 L478.0,1078.0 L479.0,1078.0 L480.0,1078.1 L481.0,1078.3 L482.0,1078.5 L483.0,1078.6 L484.0,1078.6 L485.0,1078.6 L486.0,1078.5 L487.0,1078.4 L488.0,1078.3 L489.0,1078.2 L490.0,1078.2 L491.0,1078.2 L492.0,1078.4 L493.0,1078.5 L494.0,1078.7 L495.0,1078.9 L496.0,1078.9 L497.0,1079.0 L498.0,1079.1 L499.0,1079.2 L500.0,1079.4 L501.0,1079.5 L502.0,1079.5 L503.0,1079.6 L504.0,1079.7 L505.0,1079.8 L506.0,1080.0 L507.0,1080.1 L508.0,1080.1 L509.0,1080.1 L510.0,1080.0 L511.0,1079.9 L512.0,1079.7 L513.0,1079.6 L514.0,1079.6 L515.0,1079.7 L516.0,1079.9 L517.0,1080.2 L518.0,1080.4 L519.0,1080.6 L520.0,1080.7 L521.0,1080.7 L522.0,1080.8 L523.0,1080.8 L524.0,1080.8 L525.0,1080.8 L526.0,1080.9 L527.0,1080.9 L528.0,1080.7 L529.0,1080.6 L530.0,1080.4 L531.0,1080.3 L532.0,1080.3 L533.0,1080.3 L534.0,1080.2 L535.0,1080.0 L536.0,1079.8 L537.0,1079.6 L538.0,1079.6 L539.0,1079.7 L540.0,1079.9 L541.0,1080.1 L542.0,1080.3 L543.0,1080.5 L544.0,1080.6 L545.0,1080.5 L546.0,1080.4 L547.0,1080.3 L548.0,1080.1 L549.0,1080.0 L550.0,1080.0 L551.0,1080.2 L552.0,1080.6 L553.0,1081.1 L554.0,1081.7 L555.0,1082.1 L556.0,1082.2 L557.0,1082.1 L558.0,1081.9 L559.0,1081.5 L560.0,1081.2 L561.0,1080.9 L562.0,1080.8 L563.0,1080.9 L564.0,1081.0 L565.0,1081.2 L566.0,1081.4 L567.0,1081.5 L568.0,1081.5 L569.0,1081.4 L570.0,1081.0 L571.0,1080.5 L572.0,1080.1 L573.0,1079.7 L574.0,1079.5 L575.0,1079.5 L576.0,1079.5 L577.0,1079.5 L578.0,1079.6 L579.0,1079.6 L580.0,1079.6 L581.0,1079.5 L582.0,1079.5 L583.0,1079.5 L584.0,1079.5 L585.0,1079.5 L586.0,1079.5 L587.0,1079.4 L588.0,1079.4 L589.0,1079.4 L590.0,1079.4 L591.0,1079.4 L592.0,1079.4 L593.0,1079.4 L594.0,1079.4 L595.0,1079.4 L596.0,1079.4 L597.0,1079.4 L598.0,1079.4 L599.0,1079.4 L600.0,1079.3 L601.0,1079.2 L602.0,1079.2 L603.0,1079.1 L604.0,1079.1 L605.0,1079.1 L606.0,1079.1 L607.0,1079.2 L608.0,1079.3 L609.0,1079.4 L610.0,1079.4 L611.0,1079.4 L612.0,1079.3 L613.0,1079.3 L614.0,1079.3 L615.0,1079.3 L616.0,1079.3 L617.0,1079.2 L618.0,1079.1 L619.0,1078.9 L620.0,1078.7 L621.0,1078.6 L622.0,1078.5 L623.0,1078.5 L624.0,1078.5 L625.0,1078.5 L626.0,1078.5 L627.0,1078.5 L628.0,1078.5 L629.0,1078.5 L630.0,1078.7 L631.0,1078.9 L632.0,1079.1 L633.0,1079.3 L634.0,1079.3 L635.0,1079.3 L636.0,1079.2 L637.0,1079.1 L638.0,1078.9 L639.0,1078.8 L640.0,1078.8 L641.0,1078.9 L642.0,1079.1 L643.0,1079.3 L644.0,1079.5 L645.0,1079.7 L646.0,1079.8 L647.0,1079.8 L648.0,1079.6 L649.0,1079.3 L650.0,1079.1 L651.0,1078.9 L652.0,1078.9 L653.0,1079.0 L654.0,1079.3 L655.0,1079.6 L656.0,1080.0 L657.0,1080.3 L658.0,1080.4 L659.0,1080.3 L660.0,1080.1 L661.0,1079.9 L662.0,1079.6 L663.0,1079.4 L664.0,1079.4 L665.0,1079.5 L666.0,1079.8 L667.0,1080.3 L668.0,1080.7 L669.0,1081.0 L670.0,1081.1 L671.0,1081.1 L672.0,1081.0 L673.0,1080.9 L674.0,1080.7 L675.0,1080.6 L676.0,1080.6 L677.0,1080.7 L678.0,1081.0 L679.0,1081.4 L680.0,1081.8 L681.0,1082.1 L682.0,1082.2 L683.0,1082.1" fill="none" stroke="#95C312" stroke-width="3.0" stroke-linejoin="round" stroke-linecap="round"/>
<rect x="151.3" y="914.8" width="12.4" height="12.4" rx="1.5" fill="#E43C0A"/>
<rect x="208.7" y="917.2" width="12.4" height="12.4" rx="1.5" fill="#E43C0A"/>
<path d="M272.4,903.6 V934.0 M266.4,903.6 H278.4 M266.4,934.0 H278.4" fill="none" stroke="#E43C0A" stroke-width="2.8"/>
<rect x="266.2" y="912.5" width="12.4" height="12.4" rx="1.5" fill="#E43C0A"/>
<path d="M329.9,905.1 V946.7 M323.9,905.1 H335.9 M323.9,946.7 H335.9" fill="none" stroke="#E43C0A" stroke-width="2.8"/>
<rect x="323.7" y="919.5" width="12.4" height="12.4" rx="1.5" fill="#E43C0A"/>
<path d="M387.4,914.5 V969.7 M381.4,914.5 H393.4 M381.4,969.7 H393.4" fill="none" stroke="#E43C0A" stroke-width="2.8"/>
<rect x="381.2" y="936.3" width="12.4" height="12.4" rx="1.5" fill="#E43C0A"/>
<path d="M444.8,929.9 V1006.3 M438.8,929.9 H450.8 M438.8,1006.3 H450.8" fill="none" stroke="#E43C0A" stroke-width="2.8"/>
<rect x="438.6" y="962.0" width="12.4" height="12.4" rx="1.5" fill="#E43C0A"/>
<path d="M502.3,910.1 V984.1 M496.3,910.1 H508.3 M496.3,984.1 H508.3" fill="none" stroke="#E43C0A" stroke-width="2.8"/>
<rect x="496.1" y="940.2" width="12.4" height="12.4" rx="1.5" fill="#E43C0A"/>
<path d="M559.8,921.3 V995.3 M553.8,921.3 H565.8 M553.8,995.3 H565.8" fill="none" stroke="#E43C0A" stroke-width="2.8"/>
<rect x="553.6" y="951.8" width="12.4" height="12.4" rx="1.5" fill="#E43C0A"/>
<path d="M617.2,921.3 V981.1 M611.2,921.3 H623.2 M611.2,981.1 H623.2" fill="none" stroke="#E43C0A" stroke-width="2.8"/>
<rect x="611.0" y="945.5" width="12.4" height="12.4" rx="1.5" fill="#E43C0A"/>
<path d="M674.7,921.3 V981.1 M668.7,921.3 H680.7 M668.7,981.1 H680.7" fill="none" stroke="#E43C0A" stroke-width="2.8"/>
<rect x="668.5" y="945.5" width="12.4" height="12.4" rx="1.5" fill="#E43C0A"/>
<circle cx="157.5" cy="916.0" r="7.4" fill="#615B98"/>
<path d="M214.9,927.8 V956.1 M208.9,927.8 H220.9 M208.9,956.1 H220.9" fill="none" stroke="#615B98" stroke-width="2.8"/>
<circle cx="214.9" cy="941.9" r="7.4" fill="#615B98"/>
<path d="M272.4,1049.1 V1141.8 M266.4,1049.1 H278.4 M266.4,1141.8 H278.4" fill="none" stroke="#615B98" stroke-width="2.8"/>
<circle cx="272.4" cy="1095.8" r="7.4" fill="#615B98"/>
<path d="M329.9,1059.5 V1132.0 M323.9,1059.5 H335.9 M323.9,1132.0 H335.9" fill="none" stroke="#615B98" stroke-width="2.8"/>
<circle cx="329.9" cy="1096.2" r="7.4" fill="#615B98"/>
<path d="M387.4,1020.6 V1140.3 M381.4,1020.6 H393.4 M381.4,1140.3 H393.4" fill="none" stroke="#615B98" stroke-width="2.8"/>
<circle cx="387.4" cy="1079.4" r="7.4" fill="#615B98"/>
<path d="M444.8,1058.4 V1130.9 M438.8,1058.4 H450.8 M438.8,1130.9 H450.8" fill="none" stroke="#615B98" stroke-width="2.8"/>
<circle cx="444.8" cy="1094.6" r="7.4" fill="#615B98"/>
<path d="M502.3,1036.8 V1151.8 M496.3,1036.8 H508.3 M496.3,1151.8 H508.3" fill="none" stroke="#615B98" stroke-width="2.8"/>
<circle cx="502.3" cy="1094.6" r="7.4" fill="#615B98"/>
<path d="M559.8,1038.0 V1104.6 M553.8,1038.0 H565.8 M553.8,1104.6 H565.8" fill="none" stroke="#615B98" stroke-width="2.8"/>
<circle cx="559.8" cy="1070.9" r="7.4" fill="#615B98"/>
<path d="M617.2,1066.0 V1133.9 M611.2,1066.0 H623.2 M611.2,1133.9 H623.2" fill="none" stroke="#615B98" stroke-width="2.8"/>
<circle cx="617.2" cy="1099.7" r="7.4" fill="#615B98"/>
<path d="M674.7,1055.8 V1106.7 M668.7,1055.8 H680.7 M668.7,1106.7 H680.7" fill="none" stroke="#615B98" stroke-width="2.8"/>
<circle cx="674.7" cy="1081.5" r="7.4" fill="#615B98"/>
<path d="M157.5,920.9 L164.7,929.9 L157.5,938.9 L150.3,929.9Z" fill="#95C312" stroke="#95C312" stroke-width="1" stroke-linejoin="round"/>
<path d="M214.9,924.1 V938.7 M208.9,924.1 H220.9 M208.9,938.7 H220.9" fill="none" stroke="#95C312" stroke-width="2.8"/>
<path d="M214.9,921.8 L222.1,930.8 L214.9,939.8 L207.7,930.8Z" fill="#95C312" stroke="#95C312" stroke-width="1" stroke-linejoin="round"/>
<path d="M272.4,952.6 V1009.7 M266.4,952.6 H278.4 M266.4,1009.7 H278.4" fill="none" stroke="#95C312" stroke-width="2.8"/>
<path d="M272.4,972.3 L279.6,981.3 L272.4,990.3 L265.2,981.3Z" fill="#95C312" stroke="#95C312" stroke-width="1" stroke-linejoin="round"/>
<path d="M329.9,1008.8 V1105.5 M323.9,1008.8 H335.9 M323.9,1105.5 H335.9" fill="none" stroke="#95C312" stroke-width="2.8"/>
<path d="M329.9,1047.1 L337.1,1056.1 L329.9,1065.1 L322.7,1056.1Z" fill="#95C312" stroke="#95C312" stroke-width="1" stroke-linejoin="round"/>
<path d="M387.4,1037.4 V1124.4 M381.4,1037.4 H393.4 M381.4,1124.4 H393.4" fill="none" stroke="#95C312" stroke-width="2.8"/>
<path d="M387.4,1071.6 L394.6,1080.6 L387.4,1089.6 L380.2,1080.6Z" fill="#95C312" stroke="#95C312" stroke-width="1" stroke-linejoin="round"/>
<path d="M444.8,1019.5 V1130.9 M438.8,1019.5 H450.8 M438.8,1130.9 H450.8" fill="none" stroke="#95C312" stroke-width="2.8"/>
<path d="M444.8,1065.7 L452.0,1074.7 L444.8,1083.7 L437.6,1074.7Z" fill="#95C312" stroke="#95C312" stroke-width="1" stroke-linejoin="round"/>
<path d="M502.3,1032.2 V1143.7 M496.3,1032.2 H508.3 M496.3,1143.7 H508.3" fill="none" stroke="#95C312" stroke-width="2.8"/>
<path d="M502.3,1078.6 L509.5,1087.6 L502.3,1096.6 L495.1,1087.6Z" fill="#95C312" stroke="#95C312" stroke-width="1" stroke-linejoin="round"/>
<path d="M559.8,1056.3 V1117.3 M553.8,1056.3 H565.8 M553.8,1117.3 H565.8" fill="none" stroke="#95C312" stroke-width="2.8"/>
<path d="M559.8,1077.5 L567.0,1086.5 L559.8,1095.5 L552.6,1086.5Z" fill="#95C312" stroke="#95C312" stroke-width="1" stroke-linejoin="round"/>
<path d="M617.2,1060.4 V1158.4 M611.2,1060.4 H623.2 M611.2,1158.4 H623.2" fill="none" stroke="#95C312" stroke-width="2.8"/>
<path d="M617.2,1100.7 L624.4,1109.7 L617.2,1118.7 L610.0,1109.7Z" fill="#95C312" stroke="#95C312" stroke-width="1" stroke-linejoin="round"/>
<path d="M674.7,1017.1 V1127.6 M668.7,1017.1 H680.7 M668.7,1127.6 H680.7" fill="none" stroke="#95C312" stroke-width="2.8"/>
<path d="M674.7,1063.2 L681.9,1072.2 L674.7,1081.2 L667.5,1072.2Z" fill="#95C312" stroke="#95C312" stroke-width="1" stroke-linejoin="round"/>
</g>
<line x1="98.5" y1="902.0" x2="685.1" y2="902.0" stroke="#666666" stroke-width="2.8"/>
<line x1="99.8" y1="900.6" x2="99.8" y2="1227.4" stroke="#000" stroke-width="2.8"/>
<line x1="683.8" y1="900.6" x2="683.8" y2="1227.4" stroke="#000" stroke-width="2.8"/>
<line x1="98.4" y1="1226.0" x2="685.2" y2="1226.0" stroke="#000" stroke-width="2.8"/>
<clipPath id="cl2"><rect x="80" y="904.9" width="20.0" height="24"/></clipPath>
<clipPath id="cr2"><rect x="100.0" y="904.9" width="20" height="24"/></clipPath>
<g clip-path="url(#cl2)"><rect x="93.8" y="910.7" width="12.4" height="12.4" rx="1.5" fill="#FF0000"/></g>
<g clip-path="url(#cr2)"><rect x="93.8" y="910.7" width="12.4" height="12.4" rx="1.5" fill="#E43C0A"/></g>
<g clip-path="url(#cl2)"><circle cx="100.0" cy="916.9" r="7.4" fill="#0000FF"/></g>
<g clip-path="url(#cr2)"><circle cx="100.0" cy="916.9" r="7.4" fill="#615B98"/></g>
<g clip-path="url(#cl2)"><path d="M100.0,907.9 L107.2,916.9 L100.0,925.9 L92.8,916.9Z" fill="#00FF00" stroke="#00FF00" stroke-width="1" stroke-linejoin="round"/></g>
<g clip-path="url(#cr2)"><path d="M100.0,907.9 L107.2,916.9 L100.0,925.9 L92.8,916.9Z" fill="#95C312" stroke="#95C312" stroke-width="1" stroke-linejoin="round"/></g>
<text x="90.5" y="1222.5" text-anchor="end" class="tk">0</text>
<text x="90.5" y="1163.6" text-anchor="end" class="tk">0.2</text>
<text x="90.5" y="1104.6" text-anchor="end" class="tk">0.4</text>
<text x="90.5" y="1045.7" text-anchor="end" class="tk">0.6</text>
<text x="90.5" y="986.7" text-anchor="end" class="tk">0.8</text>
<text x="90.5" y="927.8" text-anchor="end" class="tk">1</text>
<text x="100.0" y="1264.8" text-anchor="middle" class="tk">-2</text>
<text x="214.9" y="1264.8" text-anchor="middle" class="tk">0</text>
<text x="329.9" y="1264.8" text-anchor="middle" class="tk">2</text>
<text x="444.8" y="1264.8" text-anchor="middle" class="tk">4</text>
<text x="559.8" y="1264.8" text-anchor="middle" class="tk">6</text>
<text x="674.7" y="1264.8" text-anchor="middle" class="tk">8</text>
<text transform="translate(363.96,27.72) scale(0.3528,0.3184)" style="font-weight:normal;font-style:italic;font-size:100px;fill:#000">β</text>
<text transform="translate(381.95,27.00) scale(0.3892,0.2741)" style="font-weight:bold;font-style:normal;font-size:100px;fill:#000">=</text>
<text transform="translate(401.79,28.27) scale(0.3443,0.3289)" style="font-weight:bold;font-style:normal;font-size:100px;fill:#000">0</text>
<text transform="translate(363.97,458.22) scale(0.3587,0.3184)" style="font-weight:normal;font-style:italic;font-size:100px;fill:#000">β</text>
<text transform="translate(381.95,457.60) scale(0.3892,0.2741)" style="font-weight:bold;font-style:normal;font-size:100px;fill:#000">=</text>
<text transform="translate(401.03,459.00) scale(0.3342,0.3242)" style="font-weight:bold;font-style:normal;font-size:100px;fill:#000">1</text>
<text transform="translate(356.67,888.29) scale(0.3548,0.3152)" style="font-weight:normal;font-style:italic;font-size:100px;fill:#000">β</text>
<text transform="translate(374.62,887.60) scale(0.3763,0.2741)" style="font-weight:bold;font-style:normal;font-size:100px;fill:#000">=</text>
<text transform="translate(393.80,888.58) scale(0.3326,0.3244)" style="font-weight:bold;font-style:normal;font-size:100px;fill:#000">20</text>
<text transform="translate(-0.73,17.11) scale(0.4481,0.3862)" style="font-weight:bold;font-style:normal;font-size:100px;fill:#000">a</text>
<text transform="translate(1.05,456.71) scale(0.4708,0.3906)" style="font-weight:normal;font-style:normal;font-size:100px;fill:#000;stroke:#000;stroke-width:1.2">b</text>
<text transform="translate(-1.52,883.25) scale(0.4468,0.3854)" style="font-weight:bold;font-style:normal;font-size:100px;fill:#000">c</text>
<text transform="translate(354.72,1301.30) scale(0.3890,0.3285)" style="font-weight:normal;font-style:normal;font-size:100px;fill:#000">ln</text>
<text transform="translate(386.64,1301.61) scale(0.3307,0.3705)" style="font-weight:normal;font-style:normal;font-size:100px;fill:#000">(</text>
<text transform="translate(399.00,1301.17) scale(0.4263,0.3348)" style="font-weight:bold;font-style:italic;font-size:100px;fill:#000">τ</text>
<text transform="translate(421.87,1301.61) scale(0.3230,0.3705)" style="font-weight:normal;font-style:normal;font-size:100px;fill:#000">)</text>
<text transform="translate(30.09,254.35) rotate(-90) scale(0.4600,0.3571)" style="font-weight:normal;font-style:normal;font-size:100px;fill:#000">|</text>
<text transform="translate(29.83,243.12) rotate(-90) scale(0.4008,0.3470)" style="font-weight:bold;font-style:italic;font-size:100px;fill:#000">D</text>
<text transform="translate(30.23,211.02) rotate(-90) scale(0.3463,0.3649)" style="font-weight:normal;font-style:normal;font-size:100px;fill:#000">(</text>
<text transform="translate(29.88,198.90) rotate(-90) scale(0.4263,0.3241)" style="font-weight:bold;font-style:italic;font-size:100px;fill:#000">τ</text>
<text transform="translate(30.23,177.20) rotate(-90) scale(0.3735,0.3649)" style="font-weight:normal;font-style:normal;font-size:100px;fill:#000">)</text>
<text transform="translate(30.04,162.65) rotate(-90) scale(0.4600,0.3593)" style="font-weight:normal;font-style:normal;font-size:100px;fill:#000">|</text>
<rect x="0" y="153.0" width="1.6" height="101.5" fill="#000"/>
<text transform="translate(30.09,684.95) rotate(-90) scale(0.4600,0.3571)" style="font-weight:normal;font-style:normal;font-size:100px;fill:#000">|</text>
<text transform="translate(29.83,673.72) rotate(-90) scale(0.4008,0.3470)" style="font-weight:bold;font-style:italic;font-size:100px;fill:#000">D</text>
<text transform="translate(30.23,641.62) rotate(-90) scale(0.3463,0.3649)" style="font-weight:normal;font-style:normal;font-size:100px;fill:#000">(</text>
<text transform="translate(29.88,629.50) rotate(-90) scale(0.4263,0.3241)" style="font-weight:bold;font-style:italic;font-size:100px;fill:#000">τ</text>
<text transform="translate(30.23,607.80) rotate(-90) scale(0.3735,0.3649)" style="font-weight:normal;font-style:normal;font-size:100px;fill:#000">)</text>
<text transform="translate(30.04,593.25) rotate(-90) scale(0.4600,0.3593)" style="font-weight:normal;font-style:normal;font-size:100px;fill:#000">|</text>
<rect x="0" y="583.6" width="1.6" height="101.5" fill="#000"/>
<text transform="translate(30.09,1114.95) rotate(-90) scale(0.4600,0.3571)" style="font-weight:normal;font-style:normal;font-size:100px;fill:#000">|</text>
<text transform="translate(29.83,1103.72) rotate(-90) scale(0.4008,0.3470)" style="font-weight:bold;font-style:italic;font-size:100px;fill:#000">D</text>
<text transform="translate(30.23,1071.62) rotate(-90) scale(0.3463,0.3649)" style="font-weight:normal;font-style:normal;font-size:100px;fill:#000">(</text>
<text transform="translate(29.88,1059.50) rotate(-90) scale(0.4263,0.3241)" style="font-weight:bold;font-style:italic;font-size:100px;fill:#000">τ</text>
<text transform="translate(30.23,1037.80) rotate(-90) scale(0.3735,0.3649)" style="font-weight:normal;font-style:normal;font-size:100px;fill:#000">)</text>
<text transform="translate(30.04,1023.25) rotate(-90) scale(0.4600,0.3593)" style="font-weight:normal;font-style:normal;font-size:100px;fill:#000">|</text>
<rect x="0" y="1013.6" width="1.6" height="101.5" fill="#000"/>
<line x1="367.9" y1="75.05" x2="423.1" y2="75.05" stroke="#E43C0A" stroke-width="3.2"/>
<text transform="translate(426.24,86.29) scale(0.3125,0.3082)" style="font-weight:bold;font-style:normal;font-size:100px;fill:#404040">Sim</text>
<rect x="498.3" y="68.8" width="12.5" height="12.4" fill="#E43C0A"/>
<text transform="translate(536.67,85.83) scale(0.3128,0.3134)" style="font-weight:bold;font-style:normal;font-size:100px;fill:#404040">Exp,</text>
<text transform="translate(607.24,86.21) scale(0.3681,0.3031)" style="font-weight:normal;font-style:italic;font-size:100px;fill:#404040">μ</text>
<text transform="translate(625.53,84.35) scale(0.3742,0.2259)" style="font-weight:bold;font-style:normal;font-size:100px;fill:#404040">=</text>
<text transform="translate(644.30,86.18) scale(0.3239,0.3188)" style="font-weight:bold;font-style:normal;font-size:100px;fill:#404040">5</text>
<line x1="367.9" y1="111.10" x2="423.1" y2="111.10" stroke="#615B98" stroke-width="3.2"/>
<text transform="translate(426.24,122.34) scale(0.3125,0.3082)" style="font-weight:bold;font-style:normal;font-size:100px;fill:#404040">Sim</text>
<circle cx="504.9" cy="110.2" r="7.7" fill="#615B98"/>
<text transform="translate(536.67,121.88) scale(0.3128,0.3134)" style="font-weight:bold;font-style:normal;font-size:100px;fill:#404040">Exp,</text>
<text transform="translate(607.24,122.26) scale(0.3681,0.3031)" style="font-weight:normal;font-style:italic;font-size:100px;fill:#404040">μ</text>
<text transform="translate(625.53,120.40) scale(0.3742,0.2259)" style="font-weight:bold;font-style:normal;font-size:100px;fill:#404040">=</text>
<text transform="translate(644.37,122.24) scale(0.3231,0.3141)" style="font-weight:bold;font-style:normal;font-size:100px;fill:#404040">0</text>
<line x1="367.9" y1="147.15" x2="423.1" y2="147.15" stroke="#95C312" stroke-width="3.2"/>
<text transform="translate(426.24,158.39) scale(0.3125,0.3082)" style="font-weight:bold;font-style:normal;font-size:100px;fill:#404040">Sim</text>
<path d="M504.7,135.6 L512.7,146.2 L504.7,156.8 L496.7,146.2Z" fill="#95C312"/>
<text transform="translate(536.67,157.93) scale(0.3128,0.3134)" style="font-weight:bold;font-style:normal;font-size:100px;fill:#404040">Exp,</text>
<text transform="translate(607.24,158.31) scale(0.3681,0.3031)" style="font-weight:normal;font-style:italic;font-size:100px;fill:#404040">μ</text>
<text transform="translate(625.77,156.45) scale(0.3656,0.2259)" style="font-weight:bold;font-style:normal;font-size:100px;fill:#404040">=</text>
<rect x="645.2" y="149.5" width="9.6" height="2.9" fill="#404040"/>
<text transform="translate(654.48,158.08) scale(0.3310,0.3158)" style="font-weight:bold;font-style:normal;font-size:100px;fill:#404040">5</text>
</svg>
</body></html>
